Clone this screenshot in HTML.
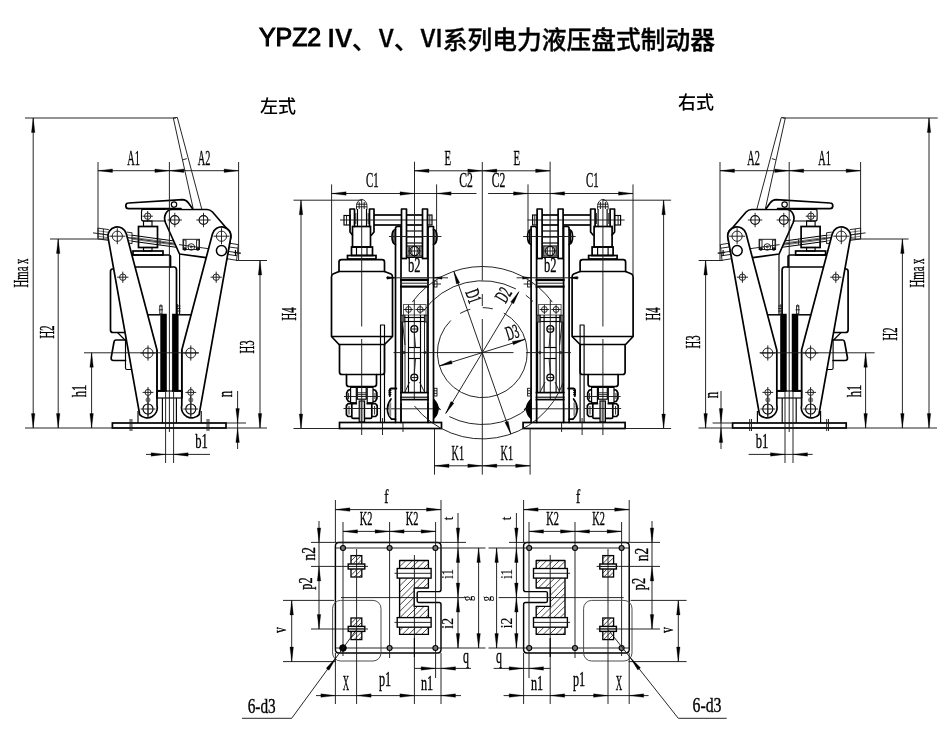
<!DOCTYPE html>
<html lang="zh-CN">
<head>
<meta charset="utf-8">
<title>YPZ2 Ⅳ、Ⅴ、Ⅵ系列电力液压盘式制动器</title>
<style>
html,body{margin:0;padding:0;background:#fff;}
body{width:950px;height:750px;position:relative;overflow:hidden;font-family:"Liberation Sans","Noto Sans CJK SC",sans-serif;color:#000;}
.title{position:absolute;left:0;top:21px;width:950px;height:36px;font-size:24.5px;line-height:36px;font-weight:700;white-space:nowrap;}
.title span{position:absolute;top:0;}
.title .la{font-family:"Liberation Sans",sans-serif;font-size:25px;top:-1.6px;font-weight:400;letter-spacing:-0.1px;-webkit-text-stroke:1px #000;}
.title .rn{font-family:"Noto Sans CJK SC","Liberation Sans",sans-serif;font-weight:500;top:-2px;-webkit-text-stroke:0.3px #000;}
.title .cj{font-family:"Liberation Sans","Noto Sans CJK SC",sans-serif;top:1.6px;font-weight:500;-webkit-text-stroke:0.35px #000;}
.lab{position:absolute;font-size:18px;line-height:24px;font-weight:500;white-space:nowrap;}
svg{position:absolute;left:0;top:0;}
svg,.title,.lab{will-change:transform;}
</style>
</head>
<body>
<svg width="950" height="750" viewBox="0 0 950 750" stroke-linecap="butt">
<path d="M165,209.5 L143.5,209.5 Q141.5,209.5 141.5,211.5 L141.5,219 Q141.5,221 143.5,221 L166,221" fill="none" stroke="#000" stroke-width="1.15" stroke-linejoin="round" stroke-linecap="round"/>
<circle cx="147.7" cy="216.2" r="3.2" fill="none" stroke="#1a1a1a" stroke-width="0.95"/>
<line x1="142.5" y1="216.2" x2="152.9" y2="216.2" stroke="#1a1a1a" stroke-width="0.95"/>
<line x1="147.7" y1="211" x2="147.7" y2="221.4" stroke="#1a1a1a" stroke-width="0.95"/>
<rect x="143.5" y="221" width="8.5" height="5.5" fill="none" stroke="#000" stroke-width="1.15"/>
<rect x="138.5" y="226.5" width="19" height="21" fill="#fff" stroke="#000" stroke-width="1.7"/>
<rect x="143.5" y="247.5" width="8.5" height="3.5" fill="none" stroke="#000" stroke-width="1.15"/>
<rect x="133" y="251" width="30" height="4" fill="none" stroke="#000" stroke-width="1.7"/>
<path d="M133,255 L168.5,255 Q170.5,255 170.5,257 L170.5,267 L134,267" fill="none" stroke="#000" stroke-width="1.7" stroke-linejoin="round" stroke-linecap="round"/>
<path d="M125,269 L112.5,269 Q110.5,269 110.5,271.5 L110.5,330 Q110.5,332.5 113,332.5 L125,332.5" fill="none" stroke="#000" stroke-width="1.7" stroke-linejoin="round" stroke-linecap="round"/>
<path d="M170.5,267 L174.5,267 Q176.5,267.5 176.5,270 L176.5,314" fill="none" stroke="#000" stroke-width="1.7" stroke-linejoin="round" stroke-linecap="round"/>
<line x1="179.6" y1="254" x2="179.6" y2="314" stroke="#000" stroke-width="1.15"/>
<line x1="177.6" y1="304" x2="177.6" y2="314" stroke="#1a1a1a" stroke-width="0.95"/>
<line x1="177" y1="306" x2="180.5" y2="306" stroke="#1a1a1a" stroke-width="0.95"/>
<line x1="177" y1="308.5" x2="180.5" y2="308.5" stroke="#1a1a1a" stroke-width="0.95"/>
<line x1="177" y1="311" x2="180.5" y2="311" stroke="#1a1a1a" stroke-width="0.95"/>
<line x1="117.5" y1="332.5" x2="125" y2="340" stroke="#000" stroke-width="1.15"/>
<path d="M125.5,340 L116,340 Q114.3,340 114,342 L111.2,357.5 Q110.8,360.5 113.5,360.5 L125.5,360.5" fill="none" stroke="#000" stroke-width="1.7" stroke-linejoin="round" stroke-linecap="round"/>
<path d="M125.5,340 L125.5,368 Q125.5,369.5 127,369.5 L131,369.5" fill="none" stroke="#000" stroke-width="1.15" stroke-linejoin="round" stroke-linecap="round"/>
<line x1="132" y1="235.2" x2="178" y2="241.5" stroke="#000" stroke-width="1"/>
<line x1="132" y1="241.2" x2="178" y2="247.5" stroke="#000" stroke-width="1"/>
<line x1="132" y1="237.2" x2="177" y2="243.37" stroke="#222" stroke-width="0.6"/>
<line x1="132" y1="239.2" x2="177" y2="245.37" stroke="#222" stroke-width="0.6"/>
<line x1="97.6" y1="228.09" x2="108.8" y2="229.62" stroke="#111" stroke-width="0.9"/>
<line x1="97.6" y1="238.89" x2="108.8" y2="240.42" stroke="#111" stroke-width="0.9"/>
<line x1="97.6" y1="230.79" x2="108.8" y2="232.32" stroke="#222" stroke-width="0.6"/>
<line x1="97.6" y1="233.49" x2="108.8" y2="235.02" stroke="#222" stroke-width="0.6"/>
<line x1="97.6" y1="236.19" x2="108.8" y2="237.72" stroke="#222" stroke-width="0.6"/>
<line x1="98" y1="228.14" x2="98" y2="238.94" stroke="#111" stroke-width="0.9"/>
<line x1="103.4" y1="228.88" x2="103.4" y2="239.68" stroke="#111" stroke-width="0.9"/>
<line x1="126.8" y1="232.09" x2="132.2" y2="232.83" stroke="#111" stroke-width="0.9"/>
<line x1="126.8" y1="242.89" x2="132.2" y2="243.63" stroke="#111" stroke-width="0.9"/>
<line x1="126.8" y1="234.79" x2="132.2" y2="235.53" stroke="#222" stroke-width="0.6"/>
<line x1="126.8" y1="237.49" x2="132.2" y2="238.23" stroke="#222" stroke-width="0.6"/>
<line x1="126.8" y1="240.19" x2="132.2" y2="240.93" stroke="#222" stroke-width="0.6"/>
<line x1="132" y1="232.8" x2="132" y2="243.6" stroke="#111" stroke-width="0.9"/>
<line x1="160" y1="239.24" x2="160" y2="244.84" stroke="#1a1a1a" stroke-width="0.95"/>
<line x1="93" y1="232.86" x2="241" y2="253.13" stroke="#1a1a1a" stroke-width="0.95"/>
<path d="M172,209.5 L207,209.5 Q210,209.5 212.5,212 L226.5,228.2 A9.3,9.3 0 0 1 230.8,237 L226,262 L206,257.6 L179.5,254 L165.6,223 Q163.6,218 165.6,214 Q167.6,209.5 172,209.5 Z" fill="#fff" stroke="#000" stroke-width="1.7" stroke-linejoin="round" stroke-linecap="round"/>
<circle cx="174.8" cy="220" r="4.4" fill="none" stroke="#000" stroke-width="1.15"/>
<line x1="167.6" y1="220" x2="182" y2="220" stroke="#1a1a1a" stroke-width="0.95"/>
<line x1="174.8" y1="212.8" x2="174.8" y2="227.2" stroke="#1a1a1a" stroke-width="0.95"/>
<circle cx="203.5" cy="220" r="4.4" fill="none" stroke="#000" stroke-width="1.15"/>
<line x1="196.3" y1="220" x2="210.7" y2="220" stroke="#1a1a1a" stroke-width="0.95"/>
<line x1="203.5" y1="212.8" x2="203.5" y2="227.2" stroke="#1a1a1a" stroke-width="0.95"/>
<rect x="183" y="239.3" width="16.5" height="10.2" fill="none" stroke="#1a1a1a" stroke-width="0.95"/>
<circle cx="191.3" cy="247" r="3.3" fill="none" stroke="#1a1a1a" stroke-width="0.95"/>
<circle cx="191.3" cy="247" r="0.9" fill="none" stroke="#1a1a1a" stroke-width="0.95"/>
<rect x="183.6" y="240" width="2.4" height="9" fill="none" stroke="#1a1a1a" stroke-width="0.95"/>
<rect x="196.6" y="240" width="2.4" height="9" fill="none" stroke="#1a1a1a" stroke-width="0.95"/>
<circle cx="184.8" cy="249" r="1.2" fill="none" stroke="#000" stroke-width="1.15"/>
<circle cx="197.8" cy="249" r="1.2" fill="none" stroke="#000" stroke-width="1.15"/>
<line x1="179" y1="244.64" x2="212" y2="249.16" stroke="#1a1a1a" stroke-width="0.95"/>
<line x1="173.3" y1="118" x2="193.2" y2="208.6" stroke="#1a1a1a" stroke-width="0.95"/>
<line x1="177.3" y1="117.4" x2="201.8" y2="209.2" stroke="#1a1a1a" stroke-width="0.95"/>
<line x1="173.3" y1="118" x2="177.3" y2="117.4" stroke="#1a1a1a" stroke-width="0.95"/>
<line x1="182.9" y1="159.8" x2="186.8" y2="158.6" stroke="#1a1a1a" stroke-width="0.95"/>
<path d="M181,208.6 L128.7,208.6 A2.8,2.8 0 0 1 128.5,203 L182.5,199.6 Q186,199.6 188.5,203 L192.4,208.6" fill="#fff" stroke="#000" stroke-width="1.7" stroke-linejoin="round" stroke-linecap="round"/>
<line x1="141" y1="209" x2="181" y2="209" stroke="#000" stroke-width="1.7"/>
<circle cx="174" cy="204.6" r="2.7" fill="#fff" stroke="#000" stroke-width="1.15"/>
<polyline points="229.3,243.2 238.3,244.6 236.6,260.3 226.4,258.6" fill="none" stroke="#1a1a1a" stroke-width="0.95" stroke-linejoin="round"/>
<line x1="229.5" y1="247" x2="237.8" y2="248.2" stroke="#1a1a1a" stroke-width="0.95"/>
<line x1="228.5" y1="254.5" x2="237" y2="255.8" stroke="#1a1a1a" stroke-width="0.95"/>
<line x1="233.6" y1="252.5" x2="240.5" y2="253.4" stroke="#1a1a1a" stroke-width="0.95"/>
<line x1="235.5" y1="250" x2="235.5" y2="256" stroke="#000" stroke-width="1.15"/>
<path d="M108.14,237.83 A9.3,9.3 0 0 1 126.29,233.82 L157,350 L157,405.5 A10.1,10.1 0 0 1 139.7,414.6 Z" fill="#fff" stroke="#000" stroke-width="1.7" stroke-linejoin="round" stroke-linecap="round"/>
<path d="M230.66,237.83 A9.3,9.3 0 0 0 212.51,233.82 L181.8,350 L181.8,405.5 A10.1,10.1 0 0 0 199.1,414.6 Z" fill="#fff" stroke="#000" stroke-width="1.7" stroke-linejoin="round" stroke-linecap="round"/>
<circle cx="117.3" cy="236.2" r="5.1" fill="none" stroke="#1a1a1a" stroke-width="0.95"/>
<line x1="109.3" y1="236.2" x2="125.3" y2="236.2" stroke="#1a1a1a" stroke-width="0.95"/>
<line x1="117.3" y1="228.2" x2="117.3" y2="244.2" stroke="#1a1a1a" stroke-width="0.95"/>
<circle cx="221.5" cy="236.2" r="5.1" fill="none" stroke="#1a1a1a" stroke-width="0.95"/>
<line x1="213.5" y1="236.2" x2="229.5" y2="236.2" stroke="#1a1a1a" stroke-width="0.95"/>
<line x1="221.5" y1="228.2" x2="221.5" y2="244.2" stroke="#1a1a1a" stroke-width="0.95"/>
<circle cx="221.5" cy="250.6" r="5.1" fill="none" stroke="#000" stroke-width="1.5"/>
<circle cx="122.8" cy="277.2" r="3.2" fill="none" stroke="#1a1a1a" stroke-width="0.95"/>
<line x1="117.2" y1="277.2" x2="128.4" y2="277.2" stroke="#1a1a1a" stroke-width="0.95"/>
<line x1="122.8" y1="271.6" x2="122.8" y2="282.8" stroke="#1a1a1a" stroke-width="0.95"/>
<circle cx="216.2" cy="277.2" r="3.2" fill="none" stroke="#1a1a1a" stroke-width="0.95"/>
<line x1="210.6" y1="277.2" x2="221.8" y2="277.2" stroke="#1a1a1a" stroke-width="0.95"/>
<line x1="216.2" y1="271.6" x2="216.2" y2="282.8" stroke="#1a1a1a" stroke-width="0.95"/>
<line x1="147.8" y1="314.8" x2="160.5" y2="314.8" stroke="#000" stroke-width="1.5"/>
<line x1="178.2" y1="314.8" x2="191.2" y2="314.8" stroke="#000" stroke-width="1.5"/>
<rect x="160.6" y="314" width="6" height="77" fill="#000" stroke="#000" stroke-width="0.5"/>
<rect x="172.2" y="314" width="6" height="77" fill="#000" stroke="#000" stroke-width="0.5"/>
<line x1="157" y1="350" x2="157" y2="398" stroke="#000" stroke-width="1.15"/>
<line x1="182" y1="350" x2="182" y2="398" stroke="#000" stroke-width="1.15"/>
<rect x="159.8" y="306" width="2.2" height="8" fill="none" stroke="#1a1a1a" stroke-width="0.95"/>
<line x1="158.8" y1="309.8" x2="163" y2="309.8" stroke="#1a1a1a" stroke-width="0.95"/>
<path d="M159.8,306 A1.1,1.1 0 0 1 162,306" fill="none" stroke="#1a1a1a" stroke-width="0.95" stroke-linejoin="round" stroke-linecap="round"/>
<rect x="157" y="391" width="25" height="7" fill="none" stroke="#000" stroke-width="1.15"/>
<line x1="157.6" y1="390.9" x2="166.6" y2="390.9" stroke="#000" stroke-width="2"/>
<line x1="172.2" y1="390.9" x2="182.6" y2="390.9" stroke="#000" stroke-width="2"/>
<line x1="162.4" y1="398" x2="162.4" y2="423" stroke="#000" stroke-width="1.15"/>
<line x1="176.4" y1="398" x2="176.4" y2="423" stroke="#000" stroke-width="1.15"/>
<rect x="112.4" y="423" width="113.6" height="5" fill="none" stroke="#000" stroke-width="1.7"/>
<line x1="130.1" y1="419" x2="130.1" y2="431" stroke="#1a1a1a" stroke-width="0.95"/>
<line x1="131.9" y1="419" x2="131.9" y2="431" stroke="#1a1a1a" stroke-width="0.95"/>
<line x1="207.1" y1="419" x2="207.1" y2="431" stroke="#1a1a1a" stroke-width="0.95"/>
<line x1="208.9" y1="419" x2="208.9" y2="431" stroke="#1a1a1a" stroke-width="0.95"/>
<line x1="138" y1="411" x2="138" y2="423" stroke="#000" stroke-width="1.15"/>
<line x1="201.2" y1="411" x2="201.2" y2="423" stroke="#000" stroke-width="1.15"/>
<circle cx="148" cy="409" r="5" fill="none" stroke="#000" stroke-width="1.15"/>
<line x1="140.6" y1="409" x2="155.4" y2="409" stroke="#1a1a1a" stroke-width="0.95"/>
<line x1="148" y1="401.6" x2="148" y2="416.4" stroke="#1a1a1a" stroke-width="0.95"/>
<circle cx="148" cy="392.4" r="3" fill="none" stroke="#1a1a1a" stroke-width="0.95"/>
<line x1="142.6" y1="392.4" x2="153.4" y2="392.4" stroke="#1a1a1a" stroke-width="0.95"/>
<line x1="148" y1="387" x2="148" y2="397.8" stroke="#1a1a1a" stroke-width="0.95"/>
<circle cx="148" cy="399.9" r="2.2" fill="#8a8a8a" stroke="#555" stroke-width="0.6"/>
<line x1="148" y1="396" x2="148" y2="418" stroke="#1a1a1a" stroke-width="0.95"/>
<circle cx="148" cy="353" r="5" fill="none" stroke="#1a1a1a" stroke-width="0.95"/>
<line x1="140.4" y1="353" x2="155.6" y2="353" stroke="#1a1a1a" stroke-width="0.95"/>
<line x1="148" y1="345.4" x2="148" y2="360.6" stroke="#1a1a1a" stroke-width="0.95"/>
<circle cx="190.8" cy="409" r="5" fill="none" stroke="#000" stroke-width="1.15"/>
<line x1="183.4" y1="409" x2="198.2" y2="409" stroke="#1a1a1a" stroke-width="0.95"/>
<line x1="190.8" y1="401.6" x2="190.8" y2="416.4" stroke="#1a1a1a" stroke-width="0.95"/>
<circle cx="190.8" cy="392.4" r="3" fill="none" stroke="#1a1a1a" stroke-width="0.95"/>
<line x1="185.4" y1="392.4" x2="196.2" y2="392.4" stroke="#1a1a1a" stroke-width="0.95"/>
<line x1="190.8" y1="387" x2="190.8" y2="397.8" stroke="#1a1a1a" stroke-width="0.95"/>
<circle cx="190.8" cy="399.9" r="2.2" fill="#8a8a8a" stroke="#555" stroke-width="0.6"/>
<line x1="190.8" y1="396" x2="190.8" y2="418" stroke="#1a1a1a" stroke-width="0.95"/>
<circle cx="190.8" cy="353" r="5" fill="none" stroke="#1a1a1a" stroke-width="0.95"/>
<line x1="183.2" y1="353" x2="198.4" y2="353" stroke="#1a1a1a" stroke-width="0.95"/>
<line x1="190.8" y1="345.4" x2="190.8" y2="360.6" stroke="#1a1a1a" stroke-width="0.95"/>
<line x1="169.4" y1="162" x2="169.4" y2="432" stroke="#1a1a1a" stroke-width="0.95"/>
<line x1="25" y1="118" x2="176" y2="118" stroke="#1a1a1a" stroke-width="0.95"/>
<line x1="33.2" y1="118" x2="33.2" y2="428" stroke="#1a1a1a" stroke-width="0.95"/>
<polygon points="33.2,118 34.95,132.5 31.45,132.5" fill="#000" stroke="#000" stroke-width="0.3"/>
<polygon points="33.2,428 31.45,413.5 34.95,413.5" fill="#000" stroke="#000" stroke-width="0.3"/>
<line x1="25" y1="428" x2="267" y2="428" stroke="#1a1a1a" stroke-width="0.95"/>
<line x1="50" y1="239" x2="108" y2="239" stroke="#1a1a1a" stroke-width="0.95"/>
<line x1="58.2" y1="239" x2="58.2" y2="428" stroke="#1a1a1a" stroke-width="0.95"/>
<polygon points="58.2,239 59.95,253.5 56.45,253.5" fill="#000" stroke="#000" stroke-width="0.3"/>
<polygon points="58.2,428 56.45,413.5 59.95,413.5" fill="#000" stroke="#000" stroke-width="0.3"/>
<line x1="84" y1="352.8" x2="199" y2="352.8" stroke="#1a1a1a" stroke-width="0.95"/>
<line x1="91.6" y1="352.8" x2="91.6" y2="428" stroke="#1a1a1a" stroke-width="0.95"/>
<polygon points="91.6,352.8 93.35,367.3 89.85,367.3" fill="#000" stroke="#000" stroke-width="0.3"/>
<polygon points="91.6,428 89.85,413.5 93.35,413.5" fill="#000" stroke="#000" stroke-width="0.3"/>
<line x1="98" y1="162" x2="98" y2="238" stroke="#1a1a1a" stroke-width="0.95"/>
<line x1="238.6" y1="162" x2="238.6" y2="260.5" stroke="#1a1a1a" stroke-width="0.95"/>
<line x1="98" y1="170.7" x2="238.6" y2="170.7" stroke="#1a1a1a" stroke-width="0.95"/>
<polygon points="98,170.7 112.5,168.95 112.5,172.45" fill="#000" stroke="#000" stroke-width="0.3"/>
<polygon points="169.4,170.7 154.9,172.45 154.9,168.95" fill="#000" stroke="#000" stroke-width="0.3"/>
<polygon points="169.4,170.7 183.9,168.95 183.9,172.45" fill="#000" stroke="#000" stroke-width="0.3"/>
<polygon points="238.6,170.7 224.1,172.45 224.1,168.95" fill="#000" stroke="#000" stroke-width="0.3"/>
<line x1="236" y1="260.5" x2="267" y2="260.5" stroke="#1a1a1a" stroke-width="0.95"/>
<line x1="260" y1="260.5" x2="260" y2="428" stroke="#1a1a1a" stroke-width="0.95"/>
<polygon points="260,260.5 261.75,275 258.25,275" fill="#000" stroke="#000" stroke-width="0.3"/>
<polygon points="260,428 258.25,413.5 261.75,413.5" fill="#000" stroke="#000" stroke-width="0.3"/>
<line x1="226" y1="423" x2="246" y2="423" stroke="#1a1a1a" stroke-width="0.95"/>
<line x1="237.6" y1="391" x2="237.6" y2="449" stroke="#1a1a1a" stroke-width="0.95"/>
<polygon points="237.6,423 235.85,408.5 239.35,408.5" fill="#000" stroke="#000" stroke-width="0.3"/>
<polygon points="237.6,428 239.35,442.5 235.85,442.5" fill="#000" stroke="#000" stroke-width="0.3"/>
<line x1="165.6" y1="391" x2="165.6" y2="463" stroke="#1a1a1a" stroke-width="0.95"/>
<line x1="173.6" y1="391" x2="173.6" y2="463" stroke="#1a1a1a" stroke-width="0.95"/>
<line x1="146" y1="454.4" x2="210" y2="454.4" stroke="#1a1a1a" stroke-width="0.95"/>
<polygon points="165.6,454.4 151.1,456.15 151.1,452.65" fill="#000" stroke="#000" stroke-width="0.3"/>
<polygon points="173.6,454.4 188.1,452.65 188.1,456.15" fill="#000" stroke="#000" stroke-width="0.3"/>
<path d="M793.6,209.5 L815.1,209.5 Q817.1,209.5 817.1,211.5 L817.1,219 Q817.1,221 815.1,221 L792.6,221" fill="none" stroke="#000" stroke-width="1.15" stroke-linejoin="round" stroke-linecap="round"/>
<circle cx="810.9" cy="216.2" r="3.2" fill="none" stroke="#1a1a1a" stroke-width="0.95"/>
<line x1="816.1" y1="216.2" x2="805.7" y2="216.2" stroke="#1a1a1a" stroke-width="0.95"/>
<line x1="810.9" y1="211" x2="810.9" y2="221.4" stroke="#1a1a1a" stroke-width="0.95"/>
<rect x="806.6" y="221" width="8.5" height="5.5" fill="none" stroke="#000" stroke-width="1.15"/>
<rect x="801.1" y="226.5" width="19" height="21" fill="#fff" stroke="#000" stroke-width="1.7"/>
<rect x="806.6" y="247.5" width="8.5" height="3.5" fill="none" stroke="#000" stroke-width="1.15"/>
<rect x="795.6" y="251" width="30" height="4" fill="none" stroke="#000" stroke-width="1.7"/>
<path d="M825.6,255 L790.1,255 Q788.1,255 788.1,257 L788.1,267 L824.6,267" fill="none" stroke="#000" stroke-width="1.7" stroke-linejoin="round" stroke-linecap="round"/>
<path d="M833.6,269 L846.1,269 Q848.1,269 848.1,271.5 L848.1,330 Q848.1,332.5 845.6,332.5 L833.6,332.5" fill="none" stroke="#000" stroke-width="1.7" stroke-linejoin="round" stroke-linecap="round"/>
<path d="M788.1,267 L784.1,267 Q782.1,267.5 782.1,270 L782.1,314" fill="none" stroke="#000" stroke-width="1.7" stroke-linejoin="round" stroke-linecap="round"/>
<line x1="779" y1="254" x2="779" y2="314" stroke="#000" stroke-width="1.15"/>
<line x1="781" y1="304" x2="781" y2="314" stroke="#1a1a1a" stroke-width="0.95"/>
<line x1="781.6" y1="306" x2="778.1" y2="306" stroke="#1a1a1a" stroke-width="0.95"/>
<line x1="781.6" y1="308.5" x2="778.1" y2="308.5" stroke="#1a1a1a" stroke-width="0.95"/>
<line x1="781.6" y1="311" x2="778.1" y2="311" stroke="#1a1a1a" stroke-width="0.95"/>
<line x1="841.1" y1="332.5" x2="833.6" y2="340" stroke="#000" stroke-width="1.15"/>
<path d="M833.1,340 L842.6,340 Q844.3,340 844.6,342 L847.4,357.5 Q847.8,360.5 845.1,360.5 L833.1,360.5" fill="none" stroke="#000" stroke-width="1.7" stroke-linejoin="round" stroke-linecap="round"/>
<path d="M833.1,340 L833.1,368 Q833.1,369.5 831.6,369.5 L827.6,369.5" fill="none" stroke="#000" stroke-width="1.15" stroke-linejoin="round" stroke-linecap="round"/>
<line x1="826.6" y1="235.2" x2="780.6" y2="241.5" stroke="#000" stroke-width="1"/>
<line x1="826.6" y1="241.2" x2="780.6" y2="247.5" stroke="#000" stroke-width="1"/>
<line x1="826.6" y1="237.2" x2="781.6" y2="243.37" stroke="#222" stroke-width="0.6"/>
<line x1="826.6" y1="239.2" x2="781.6" y2="245.37" stroke="#222" stroke-width="0.6"/>
<line x1="861" y1="228.09" x2="849.8" y2="229.62" stroke="#111" stroke-width="0.9"/>
<line x1="861" y1="238.89" x2="849.8" y2="240.42" stroke="#111" stroke-width="0.9"/>
<line x1="861" y1="230.79" x2="849.8" y2="232.32" stroke="#222" stroke-width="0.6"/>
<line x1="861" y1="233.49" x2="849.8" y2="235.02" stroke="#222" stroke-width="0.6"/>
<line x1="861" y1="236.19" x2="849.8" y2="237.72" stroke="#222" stroke-width="0.6"/>
<line x1="860.6" y1="228.14" x2="860.6" y2="238.94" stroke="#111" stroke-width="0.9"/>
<line x1="855.2" y1="228.88" x2="855.2" y2="239.68" stroke="#111" stroke-width="0.9"/>
<line x1="831.8" y1="232.09" x2="826.4" y2="232.83" stroke="#111" stroke-width="0.9"/>
<line x1="831.8" y1="242.89" x2="826.4" y2="243.63" stroke="#111" stroke-width="0.9"/>
<line x1="831.8" y1="234.79" x2="826.4" y2="235.53" stroke="#222" stroke-width="0.6"/>
<line x1="831.8" y1="237.49" x2="826.4" y2="238.23" stroke="#222" stroke-width="0.6"/>
<line x1="831.8" y1="240.19" x2="826.4" y2="240.93" stroke="#222" stroke-width="0.6"/>
<line x1="826.6" y1="232.8" x2="826.6" y2="243.6" stroke="#111" stroke-width="0.9"/>
<line x1="798.6" y1="239.24" x2="798.6" y2="244.84" stroke="#1a1a1a" stroke-width="0.95"/>
<line x1="865.6" y1="232.86" x2="717.6" y2="253.13" stroke="#1a1a1a" stroke-width="0.95"/>
<path d="M786.6,209.5 L751.6,209.5 Q748.6,209.5 746.1,212 L732.1,228.2 A9.3,9.3 0 0 0 727.8,237 L732.6,262 L752.6,257.6 L779.1,254 L793,223 Q795,218 793,214 Q791,209.5 786.6,209.5 Z" fill="#fff" stroke="#000" stroke-width="1.7" stroke-linejoin="round" stroke-linecap="round"/>
<circle cx="783.8" cy="220" r="4.4" fill="none" stroke="#000" stroke-width="1.15"/>
<line x1="791" y1="220" x2="776.6" y2="220" stroke="#1a1a1a" stroke-width="0.95"/>
<line x1="783.8" y1="212.8" x2="783.8" y2="227.2" stroke="#1a1a1a" stroke-width="0.95"/>
<circle cx="755.1" cy="220" r="4.4" fill="none" stroke="#000" stroke-width="1.15"/>
<line x1="762.3" y1="220" x2="747.9" y2="220" stroke="#1a1a1a" stroke-width="0.95"/>
<line x1="755.1" y1="212.8" x2="755.1" y2="227.2" stroke="#1a1a1a" stroke-width="0.95"/>
<rect x="759.1" y="239.3" width="16.5" height="10.2" fill="none" stroke="#1a1a1a" stroke-width="0.95"/>
<circle cx="767.3" cy="247" r="3.3" fill="none" stroke="#1a1a1a" stroke-width="0.95"/>
<circle cx="767.3" cy="247" r="0.9" fill="none" stroke="#1a1a1a" stroke-width="0.95"/>
<rect x="772.6" y="240" width="2.4" height="9" fill="none" stroke="#1a1a1a" stroke-width="0.95"/>
<rect x="759.6" y="240" width="2.4" height="9" fill="none" stroke="#1a1a1a" stroke-width="0.95"/>
<circle cx="773.8" cy="249" r="1.2" fill="none" stroke="#000" stroke-width="1.15"/>
<circle cx="760.8" cy="249" r="1.2" fill="none" stroke="#000" stroke-width="1.15"/>
<line x1="779.6" y1="244.64" x2="746.6" y2="249.16" stroke="#1a1a1a" stroke-width="0.95"/>
<line x1="785.3" y1="118" x2="765.4" y2="208.6" stroke="#1a1a1a" stroke-width="0.95"/>
<line x1="781.3" y1="117.4" x2="756.8" y2="209.2" stroke="#1a1a1a" stroke-width="0.95"/>
<line x1="785.3" y1="118" x2="781.3" y2="117.4" stroke="#1a1a1a" stroke-width="0.95"/>
<line x1="775.7" y1="159.8" x2="771.8" y2="158.6" stroke="#1a1a1a" stroke-width="0.95"/>
<path d="M777.6,208.6 L829.9,208.6 A2.8,2.8 0 0 0 830.1,203 L776.1,199.6 Q772.6,199.6 770.1,203 L766.2,208.6" fill="#fff" stroke="#000" stroke-width="1.7" stroke-linejoin="round" stroke-linecap="round"/>
<line x1="817.6" y1="209" x2="777.6" y2="209" stroke="#000" stroke-width="1.7"/>
<circle cx="784.6" cy="204.6" r="2.7" fill="#fff" stroke="#000" stroke-width="1.15"/>
<polyline points="729.3,243.2 720.3,244.6 722,260.3 732.2,258.6" fill="none" stroke="#1a1a1a" stroke-width="0.95" stroke-linejoin="round"/>
<line x1="729.1" y1="247" x2="720.8" y2="248.2" stroke="#1a1a1a" stroke-width="0.95"/>
<line x1="730.1" y1="254.5" x2="721.6" y2="255.8" stroke="#1a1a1a" stroke-width="0.95"/>
<line x1="725" y1="252.5" x2="718.1" y2="253.4" stroke="#1a1a1a" stroke-width="0.95"/>
<line x1="723.1" y1="250" x2="723.1" y2="256" stroke="#000" stroke-width="1.15"/>
<path d="M850.46,237.83 A9.3,9.3 0 0 0 832.31,233.82 L801.6,350 L801.6,405.5 A10.1,10.1 0 0 0 818.9,414.6 Z" fill="#fff" stroke="#000" stroke-width="1.7" stroke-linejoin="round" stroke-linecap="round"/>
<path d="M727.94,237.83 A9.3,9.3 0 0 1 746.09,233.82 L776.8,350 L776.8,405.5 A10.1,10.1 0 0 1 759.5,414.6 Z" fill="#fff" stroke="#000" stroke-width="1.7" stroke-linejoin="round" stroke-linecap="round"/>
<circle cx="841.3" cy="236.2" r="5.1" fill="none" stroke="#1a1a1a" stroke-width="0.95"/>
<line x1="849.3" y1="236.2" x2="833.3" y2="236.2" stroke="#1a1a1a" stroke-width="0.95"/>
<line x1="841.3" y1="228.2" x2="841.3" y2="244.2" stroke="#1a1a1a" stroke-width="0.95"/>
<circle cx="737.1" cy="236.2" r="5.1" fill="none" stroke="#1a1a1a" stroke-width="0.95"/>
<line x1="745.1" y1="236.2" x2="729.1" y2="236.2" stroke="#1a1a1a" stroke-width="0.95"/>
<line x1="737.1" y1="228.2" x2="737.1" y2="244.2" stroke="#1a1a1a" stroke-width="0.95"/>
<circle cx="737.1" cy="250.6" r="5.1" fill="none" stroke="#000" stroke-width="1.5"/>
<circle cx="835.8" cy="277.2" r="3.2" fill="none" stroke="#1a1a1a" stroke-width="0.95"/>
<line x1="841.4" y1="277.2" x2="830.2" y2="277.2" stroke="#1a1a1a" stroke-width="0.95"/>
<line x1="835.8" y1="271.6" x2="835.8" y2="282.8" stroke="#1a1a1a" stroke-width="0.95"/>
<circle cx="742.4" cy="277.2" r="3.2" fill="none" stroke="#1a1a1a" stroke-width="0.95"/>
<line x1="748" y1="277.2" x2="736.8" y2="277.2" stroke="#1a1a1a" stroke-width="0.95"/>
<line x1="742.4" y1="271.6" x2="742.4" y2="282.8" stroke="#1a1a1a" stroke-width="0.95"/>
<line x1="810.8" y1="314.8" x2="798.1" y2="314.8" stroke="#000" stroke-width="1.5"/>
<line x1="780.4" y1="314.8" x2="767.4" y2="314.8" stroke="#000" stroke-width="1.5"/>
<rect x="792" y="314" width="6" height="77" fill="#000" stroke="#000" stroke-width="0.5"/>
<rect x="780.4" y="314" width="6" height="77" fill="#000" stroke="#000" stroke-width="0.5"/>
<line x1="801.6" y1="350" x2="801.6" y2="398" stroke="#000" stroke-width="1.15"/>
<line x1="776.6" y1="350" x2="776.6" y2="398" stroke="#000" stroke-width="1.15"/>
<rect x="796.6" y="306" width="2.2" height="8" fill="none" stroke="#1a1a1a" stroke-width="0.95"/>
<line x1="799.8" y1="309.8" x2="795.6" y2="309.8" stroke="#1a1a1a" stroke-width="0.95"/>
<path d="M798.8,306 A1.1,1.1 0 0 0 796.6,306" fill="none" stroke="#1a1a1a" stroke-width="0.95" stroke-linejoin="round" stroke-linecap="round"/>
<rect x="776.6" y="391" width="25" height="7" fill="none" stroke="#000" stroke-width="1.15"/>
<line x1="801" y1="390.9" x2="792" y2="390.9" stroke="#000" stroke-width="2"/>
<line x1="786.4" y1="390.9" x2="776" y2="390.9" stroke="#000" stroke-width="2"/>
<line x1="796.2" y1="398" x2="796.2" y2="423" stroke="#000" stroke-width="1.15"/>
<line x1="782.2" y1="398" x2="782.2" y2="423" stroke="#000" stroke-width="1.15"/>
<rect x="732.6" y="423" width="113.6" height="5" fill="none" stroke="#000" stroke-width="1.7"/>
<line x1="828.5" y1="419" x2="828.5" y2="431" stroke="#1a1a1a" stroke-width="0.95"/>
<line x1="826.7" y1="419" x2="826.7" y2="431" stroke="#1a1a1a" stroke-width="0.95"/>
<line x1="751.5" y1="419" x2="751.5" y2="431" stroke="#1a1a1a" stroke-width="0.95"/>
<line x1="749.7" y1="419" x2="749.7" y2="431" stroke="#1a1a1a" stroke-width="0.95"/>
<line x1="820.6" y1="411" x2="820.6" y2="423" stroke="#000" stroke-width="1.15"/>
<line x1="757.4" y1="411" x2="757.4" y2="423" stroke="#000" stroke-width="1.15"/>
<circle cx="810.6" cy="409" r="5" fill="none" stroke="#000" stroke-width="1.15"/>
<line x1="818" y1="409" x2="803.2" y2="409" stroke="#1a1a1a" stroke-width="0.95"/>
<line x1="810.6" y1="401.6" x2="810.6" y2="416.4" stroke="#1a1a1a" stroke-width="0.95"/>
<circle cx="810.6" cy="392.4" r="3" fill="none" stroke="#1a1a1a" stroke-width="0.95"/>
<line x1="816" y1="392.4" x2="805.2" y2="392.4" stroke="#1a1a1a" stroke-width="0.95"/>
<line x1="810.6" y1="387" x2="810.6" y2="397.8" stroke="#1a1a1a" stroke-width="0.95"/>
<circle cx="810.6" cy="399.9" r="2.2" fill="#8a8a8a" stroke="#555" stroke-width="0.6"/>
<line x1="810.6" y1="396" x2="810.6" y2="418" stroke="#1a1a1a" stroke-width="0.95"/>
<circle cx="810.6" cy="353" r="5" fill="none" stroke="#1a1a1a" stroke-width="0.95"/>
<line x1="818.2" y1="353" x2="803" y2="353" stroke="#1a1a1a" stroke-width="0.95"/>
<line x1="810.6" y1="345.4" x2="810.6" y2="360.6" stroke="#1a1a1a" stroke-width="0.95"/>
<circle cx="767.8" cy="409" r="5" fill="none" stroke="#000" stroke-width="1.15"/>
<line x1="775.2" y1="409" x2="760.4" y2="409" stroke="#1a1a1a" stroke-width="0.95"/>
<line x1="767.8" y1="401.6" x2="767.8" y2="416.4" stroke="#1a1a1a" stroke-width="0.95"/>
<circle cx="767.8" cy="392.4" r="3" fill="none" stroke="#1a1a1a" stroke-width="0.95"/>
<line x1="773.2" y1="392.4" x2="762.4" y2="392.4" stroke="#1a1a1a" stroke-width="0.95"/>
<line x1="767.8" y1="387" x2="767.8" y2="397.8" stroke="#1a1a1a" stroke-width="0.95"/>
<circle cx="767.8" cy="399.9" r="2.2" fill="#8a8a8a" stroke="#555" stroke-width="0.6"/>
<line x1="767.8" y1="396" x2="767.8" y2="418" stroke="#1a1a1a" stroke-width="0.95"/>
<circle cx="767.8" cy="353" r="5" fill="none" stroke="#1a1a1a" stroke-width="0.95"/>
<line x1="775.4" y1="353" x2="760.2" y2="353" stroke="#1a1a1a" stroke-width="0.95"/>
<line x1="767.8" y1="345.4" x2="767.8" y2="360.6" stroke="#1a1a1a" stroke-width="0.95"/>
<line x1="789.2" y1="162" x2="789.2" y2="432" stroke="#1a1a1a" stroke-width="0.95"/>
<line x1="937.7" y1="118" x2="782.6" y2="118" stroke="#1a1a1a" stroke-width="0.95"/>
<line x1="929" y1="118" x2="929" y2="428" stroke="#1a1a1a" stroke-width="0.95"/>
<polygon points="929,118 927.25,132.5 930.75,132.5" fill="#000" stroke="#000" stroke-width="0.3"/>
<polygon points="929,428 930.75,413.5 927.25,413.5" fill="#000" stroke="#000" stroke-width="0.3"/>
<line x1="937" y1="428" x2="698.5" y2="428" stroke="#1a1a1a" stroke-width="0.95"/>
<line x1="908.6" y1="239" x2="850.6" y2="239" stroke="#1a1a1a" stroke-width="0.95"/>
<line x1="902.4" y1="239" x2="902.4" y2="428" stroke="#1a1a1a" stroke-width="0.95"/>
<polygon points="902.4,239 900.65,253.5 904.15,253.5" fill="#000" stroke="#000" stroke-width="0.3"/>
<polygon points="902.4,428 904.15,413.5 900.65,413.5" fill="#000" stroke="#000" stroke-width="0.3"/>
<line x1="874.6" y1="352.8" x2="759.6" y2="352.8" stroke="#1a1a1a" stroke-width="0.95"/>
<line x1="865.6" y1="352.8" x2="865.6" y2="428" stroke="#1a1a1a" stroke-width="0.95"/>
<polygon points="865.6,352.8 863.85,367.3 867.35,367.3" fill="#000" stroke="#000" stroke-width="0.3"/>
<polygon points="865.6,428 867.35,413.5 863.85,413.5" fill="#000" stroke="#000" stroke-width="0.3"/>
<line x1="860.6" y1="162" x2="860.6" y2="238" stroke="#1a1a1a" stroke-width="0.95"/>
<line x1="720" y1="162" x2="720" y2="260.5" stroke="#1a1a1a" stroke-width="0.95"/>
<line x1="860.6" y1="170.7" x2="720" y2="170.7" stroke="#1a1a1a" stroke-width="0.95"/>
<polygon points="860.6,170.7 846.1,168.95 846.1,172.45" fill="#000" stroke="#000" stroke-width="0.3"/>
<polygon points="789.2,170.7 803.7,172.45 803.7,168.95" fill="#000" stroke="#000" stroke-width="0.3"/>
<polygon points="789.2,170.7 774.7,168.95 774.7,172.45" fill="#000" stroke="#000" stroke-width="0.3"/>
<polygon points="720,170.7 734.5,172.45 734.5,168.95" fill="#000" stroke="#000" stroke-width="0.3"/>
<line x1="722.6" y1="260.5" x2="698.6" y2="260.5" stroke="#1a1a1a" stroke-width="0.95"/>
<line x1="705.6" y1="260.5" x2="705.6" y2="428" stroke="#1a1a1a" stroke-width="0.95"/>
<polygon points="705.6,260.5 703.85,275 707.35,275" fill="#000" stroke="#000" stroke-width="0.3"/>
<polygon points="705.6,428 707.35,413.5 703.85,413.5" fill="#000" stroke="#000" stroke-width="0.3"/>
<line x1="732.6" y1="423" x2="712.6" y2="423" stroke="#1a1a1a" stroke-width="0.95"/>
<line x1="721" y1="391" x2="721" y2="449" stroke="#1a1a1a" stroke-width="0.95"/>
<polygon points="721,423 722.75,408.5 719.25,408.5" fill="#000" stroke="#000" stroke-width="0.3"/>
<polygon points="721,428 719.25,442.5 722.75,442.5" fill="#000" stroke="#000" stroke-width="0.3"/>
<line x1="793" y1="391" x2="793" y2="463" stroke="#1a1a1a" stroke-width="0.95"/>
<line x1="785" y1="391" x2="785" y2="463" stroke="#1a1a1a" stroke-width="0.95"/>
<line x1="812.6" y1="454.4" x2="748.6" y2="454.4" stroke="#1a1a1a" stroke-width="0.95"/>
<polygon points="793,454.4 807.5,456.15 807.5,452.65" fill="#000" stroke="#000" stroke-width="0.3"/>
<polygon points="785,454.4 770.5,452.65 770.5,456.15" fill="#000" stroke="#000" stroke-width="0.3"/>
<path d="M356.5,209 L356.5,205.5 Q357,200.4 361.7,199.3 Q366.5,200.4 367,205.5 L367,209" fill="none" stroke="#1a1a1a" stroke-width="0.95" stroke-linejoin="round" stroke-linecap="round"/>
<line x1="356.5" y1="204.2" x2="367" y2="204.2" stroke="#1a1a1a" stroke-width="0.95"/>
<line x1="356.5" y1="206.8" x2="367" y2="206.8" stroke="#1a1a1a" stroke-width="0.95"/>
<line x1="359.2" y1="202" x2="359.2" y2="209" stroke="#1a1a1a" stroke-width="0.95"/>
<line x1="364.2" y1="202" x2="364.2" y2="209" stroke="#1a1a1a" stroke-width="0.95"/>
<path d="M350,209 L354.5,209 L354.5,226.5 M350,209 L350,232 L352.5,235" fill="none" stroke="#000" stroke-width="1.7" stroke-linejoin="round" stroke-linecap="round"/>
<path d="M374,209 L369.5,209 L369.5,226.5 M374,209 L374,232 L371.5,235" fill="none" stroke="#000" stroke-width="1.7" stroke-linejoin="round" stroke-linecap="round"/>
<line x1="357.5" y1="209" x2="357.5" y2="226.5" stroke="#000" stroke-width="1.15"/>
<line x1="366.5" y1="209" x2="366.5" y2="226.5" stroke="#000" stroke-width="1.15"/>
<line x1="355.8" y1="213" x2="355.8" y2="224" stroke="#1a1a1a" stroke-width="0.95"/>
<line x1="368.2" y1="213" x2="368.2" y2="224" stroke="#1a1a1a" stroke-width="0.95"/>
<line x1="374" y1="215" x2="401.5" y2="215" stroke="#000" stroke-width="1.7"/>
<line x1="374" y1="225" x2="401.5" y2="225" stroke="#000" stroke-width="1.7"/>
<line x1="340" y1="220" x2="437" y2="220" stroke="#1a1a1a" stroke-width="0.95"/>
<rect x="344" y="215.5" width="6" height="9.5" fill="none" stroke="#000" stroke-width="1.15"/>
<line x1="346.5" y1="215.5" x2="346.5" y2="225" stroke="#1a1a1a" stroke-width="0.95"/>
<rect x="352.5" y="226.5" width="18" height="20.5" fill="none" stroke="#000" stroke-width="1.7"/>
<rect x="351.5" y="247" width="21" height="8.5" fill="none" stroke="#000" stroke-width="1.7"/>
<line x1="356.5" y1="247" x2="356.5" y2="255.5" stroke="#000" stroke-width="1.15"/>
<line x1="367" y1="247" x2="367" y2="255.5" stroke="#000" stroke-width="1.15"/>
<rect x="347.5" y="255.5" width="28.5" height="3.5" fill="none" stroke="#000" stroke-width="1.7"/>
<path d="M339,271.5 L339,262 Q339,259.6 341.5,259.6 L382,259.6 Q384.5,259.6 384.5,262 L384.5,271.5 Z" fill="none" stroke="#000" stroke-width="1.7" stroke-linejoin="round" stroke-linecap="round"/>
<path d="M339,271.5 L333,274 Q331.5,274.8 331.5,277 L331.5,336.5 L339,344.5 L384.5,344.5 L392.5,336.5 L392.5,277 Q392.5,274.8 391,274 L384.5,271.5" fill="none" stroke="#000" stroke-width="1.7" stroke-linejoin="round" stroke-linecap="round"/>
<line x1="331.5" y1="336.5" x2="392.5" y2="336.5" stroke="#000" stroke-width="1.7"/>
<path d="M339.5,344.5 L339.5,372 Q339.5,374.5 342,374.5 L382,374.5 Q384.5,374.5 384.5,372 L384.5,344.5" fill="none" stroke="#000" stroke-width="1.7" stroke-linejoin="round" stroke-linecap="round"/>
<path d="M346.5,374.5 L346.5,384 Q346.5,386.5 349,386.5 L374,386.5 Q376.5,386.5 376.5,384 L376.5,374.5" fill="none" stroke="#000" stroke-width="1.7" stroke-linejoin="round" stroke-linecap="round"/>
<path d="M380.5,422.5 L380.5,325 L384.5,325 L384.5,422.5" fill="none" stroke="#000" stroke-width="1.15" stroke-linejoin="round" stroke-linecap="round"/>
<rect x="350.6" y="387.4" width="5.7" height="15.3" fill="none" stroke="#000" stroke-width="1.15"/>
<rect x="367.2" y="387.4" width="5.8" height="15.3" fill="none" stroke="#000" stroke-width="1.15"/>
<rect x="357.3" y="387.4" width="8.9" height="11.8" fill="none" stroke="#000" stroke-width="1.15"/>
<line x1="357.3" y1="392.8" x2="366.2" y2="392.8" stroke="#1a1a1a" stroke-width="0.95"/>
<line x1="357.3" y1="394.7" x2="366.2" y2="394.7" stroke="#1a1a1a" stroke-width="0.95"/>
<polyline points="350.6,389.6 348.2,390.2 346.7,393 346.7,398.5 348.2,401.2 350.6,401.8" fill="none" stroke="#000" stroke-width="1.7" stroke-linejoin="round"/>
<polyline points="373,389.6 375.4,390.2 376.9,393 376.9,398.5 375.4,401.2 373,401.8" fill="none" stroke="#000" stroke-width="1.7" stroke-linejoin="round"/>
<line x1="348.6" y1="393" x2="348.6" y2="399" stroke="#1a1a1a" stroke-width="0.95"/>
<line x1="375" y1="393" x2="375" y2="399" stroke="#1a1a1a" stroke-width="0.95"/>
<polyline points="351.8,403.7 348,403.7 346.4,405.6 346.4,414.6 348,416.5 351.8,416.5" fill="none" stroke="#000" stroke-width="1.7" stroke-linejoin="round"/>
<polyline points="371.8,403.7 375.6,403.7 377.2,405.6 377.2,414.6 375.6,416.5 371.8,416.5" fill="none" stroke="#000" stroke-width="1.7" stroke-linejoin="round"/>
<line x1="349" y1="406" x2="349" y2="414.5" stroke="#1a1a1a" stroke-width="0.95"/>
<line x1="374.6" y1="406" x2="374.6" y2="414.5" stroke="#1a1a1a" stroke-width="0.95"/>
<path d="M356.3,403.7 L351.8,403.7 L351.8,417 Q351.8,418.4 353.3,418.4 L359.2,418.4" fill="none" stroke="#000" stroke-width="1.7" stroke-linejoin="round" stroke-linecap="round"/>
<path d="M367.2,403.7 L371.8,403.7 L371.8,417 Q371.8,418.4 370.3,418.4 L364.6,418.4" fill="none" stroke="#000" stroke-width="1.7" stroke-linejoin="round" stroke-linecap="round"/>
<rect x="359.2" y="401" width="5.4" height="21" fill="#bdbdbd" stroke="#000" stroke-width="1.15"/>
<line x1="344" y1="396.5" x2="380" y2="396.5" stroke="#1a1a1a" stroke-width="0.95"/>
<line x1="343.5" y1="408.5" x2="380" y2="408.5" stroke="#1a1a1a" stroke-width="0.95"/>
<rect x="339.5" y="422.5" width="102" height="6" fill="none" stroke="#000" stroke-width="1.7"/>
<line x1="361.7" y1="200" x2="361.7" y2="435" stroke="#1a1a1a" stroke-width="0.95" stroke-dasharray="126.5 12.5 200"/>
<line x1="382.5" y1="418" x2="382.5" y2="435" stroke="#1a1a1a" stroke-width="0.95"/>
<line x1="403" y1="423" x2="403" y2="432" stroke="#1a1a1a" stroke-width="0.95"/>
<path d="M395.5,422.5 L395.5,228.5 Q395.5,226.5 397.5,226.5 L401,226.5 L401,422.5" fill="none" stroke="#000" stroke-width="1.7" stroke-linejoin="round" stroke-linecap="round"/>
<path d="M428,422.5 L428,228.5 Q428,226.5 430,226.5 L433.5,226.5 L433.5,422.5" fill="none" stroke="#000" stroke-width="1.7" stroke-linejoin="round" stroke-linecap="round"/>
<path d="M401.5,258.5 L401.5,209 L406.5,209 L406.5,258.5" fill="none" stroke="#000" stroke-width="1.7" stroke-linejoin="round" stroke-linecap="round"/>
<path d="M422.5,258.5 L422.5,209 L427.5,209 L427.5,258.5" fill="none" stroke="#000" stroke-width="1.7" stroke-linejoin="round" stroke-linecap="round"/>
<line x1="401.5" y1="258.5" x2="406.5" y2="258.5" stroke="#000" stroke-width="1.7"/>
<line x1="422.5" y1="258.5" x2="427.5" y2="258.5" stroke="#000" stroke-width="1.7"/>
<line x1="406.5" y1="257.4" x2="422.5" y2="257.4" stroke="#000" stroke-width="1.15"/>
<line x1="406.5" y1="215" x2="422.5" y2="215" stroke="#000" stroke-width="1.7"/>
<line x1="406.5" y1="225" x2="422.5" y2="225" stroke="#000" stroke-width="1.7"/>
<line x1="406.5" y1="231" x2="422.5" y2="231" stroke="#000" stroke-width="1.15"/>
<line x1="406.5" y1="237" x2="422.5" y2="237" stroke="#000" stroke-width="1.15"/>
<line x1="406.5" y1="243" x2="422.5" y2="243" stroke="#000" stroke-width="1.15"/>
<rect x="427.5" y="215" width="4.5" height="10" fill="none" stroke="#000" stroke-width="1.15"/>
<line x1="429.8" y1="215" x2="429.8" y2="225" stroke="#1a1a1a" stroke-width="0.95"/>
<path d="M395.5,229.5 Q392,230 392,236.5 Q392,243.5 395.5,244.5" fill="none" stroke="#000" stroke-width="1.7" stroke-linejoin="round" stroke-linecap="round"/>
<path d="M433.5,229.5 Q437,230 437,236.5 Q437,243.5 433.5,244.5" fill="none" stroke="#000" stroke-width="1.7" stroke-linejoin="round" stroke-linecap="round"/>
<line x1="394" y1="231" x2="394" y2="243" stroke="#000" stroke-width="1.15"/>
<line x1="435" y1="231" x2="435" y2="243" stroke="#000" stroke-width="1.15"/>
<line x1="389" y1="236.5" x2="441.5" y2="236.5" stroke="#1a1a1a" stroke-width="0.95"/>
<circle cx="414.5" cy="251" r="4.6" fill="none" stroke="#000" stroke-width="1.15"/>
<path d="M412.2,247 Q410.8,251 412.2,255" fill="none" stroke="#1a1a1a" stroke-width="0.95" stroke-linejoin="round" stroke-linecap="round"/>
<path d="M416.8,247 Q418.2,251 416.8,255" fill="none" stroke="#1a1a1a" stroke-width="0.95" stroke-linejoin="round" stroke-linecap="round"/>
<line x1="408" y1="251" x2="421" y2="251" stroke="#1a1a1a" stroke-width="0.95"/>
<line x1="408.2" y1="246.5" x2="408.2" y2="255.5" stroke="#1a1a1a" stroke-width="0.95"/>
<line x1="409.6" y1="246.5" x2="409.6" y2="255.5" stroke="#1a1a1a" stroke-width="0.95"/>
<line x1="419.6" y1="246.5" x2="419.6" y2="255.5" stroke="#1a1a1a" stroke-width="0.95"/>
<line x1="421" y1="246.5" x2="421" y2="255.5" stroke="#1a1a1a" stroke-width="0.95"/>
<line x1="407" y1="246" x2="422" y2="246" stroke="#000" stroke-width="1.15"/>
<line x1="407" y1="256" x2="422" y2="256" stroke="#000" stroke-width="1.15"/>
<line x1="400" y1="280" x2="429" y2="280" stroke="#000" stroke-width="2.2"/>
<line x1="400" y1="286.6" x2="429" y2="286.6" stroke="#000" stroke-width="2.2"/>
<line x1="401" y1="283.2" x2="428" y2="283.2" stroke="#1a1a1a" stroke-width="0.95"/>
<line x1="401" y1="278" x2="428" y2="278" stroke="#666" stroke-width="0.95"/>
<rect x="434.2" y="281" width="2.8" height="6" fill="none" stroke="#1a1a1a" stroke-width="0.95"/>
<line x1="432" y1="284" x2="441" y2="284" stroke="#1a1a1a" stroke-width="0.95"/>
<rect x="403.5" y="304.5" width="22.5" height="10.5" fill="none" stroke="#555" stroke-width="0.95"/>
<circle cx="408.5" cy="309.5" r="2.9" fill="none" stroke="#1a1a1a" stroke-width="0.95"/>
<line x1="403.7" y1="309.5" x2="413.3" y2="309.5" stroke="#1a1a1a" stroke-width="0.95"/>
<line x1="408.5" y1="304.7" x2="408.5" y2="314.3" stroke="#1a1a1a" stroke-width="0.95"/>
<circle cx="420.2" cy="309.5" r="2.9" fill="none" stroke="#1a1a1a" stroke-width="0.95"/>
<line x1="415.4" y1="309.5" x2="425" y2="309.5" stroke="#1a1a1a" stroke-width="0.95"/>
<line x1="420.2" y1="304.7" x2="420.2" y2="314.3" stroke="#1a1a1a" stroke-width="0.95"/>
<line x1="402.5" y1="315" x2="402.5" y2="392.5" stroke="#000" stroke-width="1.15"/>
<line x1="405" y1="315" x2="405" y2="392.5" stroke="#1a1a1a" stroke-width="0.95"/>
<line x1="408.5" y1="315" x2="408.5" y2="392.5" stroke="#000" stroke-width="1.15"/>
<line x1="420.5" y1="315" x2="420.5" y2="392.5" stroke="#000" stroke-width="1.15"/>
<line x1="424.5" y1="315" x2="424.5" y2="392.5" stroke="#1a1a1a" stroke-width="0.95"/>
<line x1="427" y1="315" x2="427" y2="392.5" stroke="#000" stroke-width="1.15"/>
<line x1="402.5" y1="317.5" x2="427" y2="317.5" stroke="#000" stroke-width="1.15"/>
<line x1="402.5" y1="321.5" x2="427" y2="321.5" stroke="#000" stroke-width="1.15"/>
<rect x="401" y="315.2" width="3.2" height="6.8" fill="#666" stroke="#1a1a1a" stroke-width="0.95"/>
<rect x="424.4" y="315.2" width="3.4" height="6.8" fill="#666" stroke="#1a1a1a" stroke-width="0.95"/>
<circle cx="414.3" cy="329" r="3.4" fill="none" stroke="#000" stroke-width="1.4"/>
<line x1="411.5" y1="329" x2="417" y2="329" stroke="#1a1a1a" stroke-width="0.95"/>
<circle cx="414.3" cy="377.5" r="3.4" fill="none" stroke="#000" stroke-width="1.4"/>
<line x1="411.5" y1="377.5" x2="417" y2="377.5" stroke="#1a1a1a" stroke-width="0.95"/>
<line x1="408.5" y1="347.5" x2="420.5" y2="347.5" stroke="#000" stroke-width="1.15"/>
<line x1="408.5" y1="358.5" x2="420.5" y2="358.5" stroke="#000" stroke-width="1.15"/>
<line x1="414.3" y1="300" x2="414.3" y2="400" stroke="#1a1a1a" stroke-width="0.95"/>
<line x1="414.3" y1="333" x2="415.5" y2="347" stroke="#1a1a1a" stroke-width="0.95"/>
<line x1="415.5" y1="359" x2="414.3" y2="374" stroke="#1a1a1a" stroke-width="0.95"/>
<circle cx="404" cy="352.5" r="1.1" fill="none" stroke="#1a1a1a" stroke-width="0.95"/>
<circle cx="424.8" cy="352.5" r="1.1" fill="none" stroke="#1a1a1a" stroke-width="0.95"/>
<line x1="405" y1="392" x2="409.5" y2="382" stroke="#1a1a1a" stroke-width="0.95"/>
<line x1="424.5" y1="392" x2="419.5" y2="382" stroke="#1a1a1a" stroke-width="0.95"/>
<line x1="402.5" y1="322" x2="405" y2="345" stroke="#1a1a1a" stroke-width="0.95"/>
<line x1="400" y1="392.6" x2="429" y2="392.6" stroke="#000" stroke-width="1.7"/>
<line x1="400" y1="397.2" x2="429" y2="397.2" stroke="#000" stroke-width="1.15"/>
<line x1="400" y1="399.6" x2="429" y2="399.6" stroke="#000" stroke-width="1.7"/>
<line x1="385" y1="408.8" x2="437.5" y2="408.8" stroke="#1a1a1a" stroke-width="0.95"/>
<line x1="401" y1="403" x2="401" y2="422" stroke="#000" stroke-width="1.15"/>
<line x1="428" y1="403" x2="428" y2="422" stroke="#000" stroke-width="1.15"/>
<path d="M396.3,388.5 L391,388.5 Q389.4,389 389.6,391 L389.8,396" fill="none" stroke="#000" stroke-width="2" stroke-linejoin="round" stroke-linecap="round"/>
<line x1="388.6" y1="390.5" x2="391.4" y2="390.5" stroke="#000" stroke-width="1.15"/>
<line x1="388.6" y1="392.5" x2="391.4" y2="392.5" stroke="#000" stroke-width="1.15"/>
<line x1="388.6" y1="394.5" x2="391.4" y2="394.5" stroke="#000" stroke-width="1.15"/>
<path d="M391,399 Q387.4,404 387.4,409 Q387.4,415 391.6,419.2 L395.5,419.2" fill="none" stroke="#000" stroke-width="1.7" stroke-linejoin="round" stroke-linecap="round"/>
<line x1="390.2" y1="402.5" x2="390.2" y2="416" stroke="#8a8a8a" stroke-width="2"/>
<path d="M433.6,399.2 Q438.6,404 438.2,409.5 Q437.8,415 433.6,418.6 Z" fill="#000" stroke="#000" stroke-width="1.15" stroke-linejoin="round" stroke-linecap="round"/>
<line x1="437.5" y1="407" x2="440.5" y2="409.8" stroke="#000" stroke-width="1.15"/>
<rect x="434" y="388.3" width="3" height="7.7" fill="none" stroke="#1a1a1a" stroke-width="0.95"/>
<line x1="434" y1="390.8" x2="437" y2="390.8" stroke="#1a1a1a" stroke-width="0.95"/>
<line x1="434" y1="393.4" x2="437" y2="393.4" stroke="#1a1a1a" stroke-width="0.95"/>
<line x1="414.5" y1="161.7" x2="414.5" y2="258" stroke="#1a1a1a" stroke-width="0.95"/>
<line x1="414.5" y1="170.8" x2="482.3" y2="170.8" stroke="#1a1a1a" stroke-width="0.95"/>
<polygon points="414.5,170.8 429,169.05 429,172.55" fill="#000" stroke="#000" stroke-width="0.3"/>
<polygon points="482.3,170.8 467.8,172.55 467.8,169.05" fill="#000" stroke="#000" stroke-width="0.3"/>
<line x1="331.6" y1="184.4" x2="331.6" y2="275" stroke="#1a1a1a" stroke-width="0.95"/>
<line x1="436.6" y1="184.4" x2="436.6" y2="232" stroke="#1a1a1a" stroke-width="0.95"/>
<line x1="331.6" y1="193.5" x2="476.5" y2="193.5" stroke="#1a1a1a" stroke-width="0.95"/>
<polygon points="331.6,193.5 346.1,191.75 346.1,195.25" fill="#000" stroke="#000" stroke-width="0.3"/>
<polygon points="414.5,193.5 400,195.25 400,191.75" fill="#000" stroke="#000" stroke-width="0.3"/>
<polygon points="436.6,193.5 451.1,191.75 451.1,195.25" fill="#000" stroke="#000" stroke-width="0.3"/>
<line x1="293.5" y1="200.2" x2="362" y2="200.2" stroke="#1a1a1a" stroke-width="0.95"/>
<line x1="301" y1="200.2" x2="301" y2="428.5" stroke="#1a1a1a" stroke-width="0.95"/>
<polygon points="301,200.2 302.75,214.7 299.25,214.7" fill="#000" stroke="#000" stroke-width="0.3"/>
<polygon points="301,428.5 299.25,414 302.75,414" fill="#000" stroke="#000" stroke-width="0.3"/>
<line x1="293.5" y1="428.5" x2="339.5" y2="428.5" stroke="#1a1a1a" stroke-width="0.95"/>
<line x1="386" y1="277.8" x2="448" y2="277.8" stroke="#1a1a1a" stroke-width="0.95"/>
<polygon points="395.5,277.8 387,279.2 387,276.4" fill="#000" stroke="#000" stroke-width="0.3"/>
<polygon points="433.5,277.8 442,276.4 442,279.2" fill="#000" stroke="#000" stroke-width="0.3"/>
<line x1="434.5" y1="428.5" x2="434.5" y2="474.6" stroke="#1a1a1a" stroke-width="0.95"/>
<line x1="434.5" y1="465.8" x2="482.3" y2="465.8" stroke="#1a1a1a" stroke-width="0.95"/>
<polygon points="434.5,465.8 449,464.05 449,467.55" fill="#000" stroke="#000" stroke-width="0.3"/>
<polygon points="482.3,465.8 467.8,467.55 467.8,464.05" fill="#000" stroke="#000" stroke-width="0.3"/>
<path d="M608.1,209 L608.1,205.5 Q607.6,200.4 602.9,199.3 Q598.1,200.4 597.6,205.5 L597.6,209" fill="none" stroke="#1a1a1a" stroke-width="0.95" stroke-linejoin="round" stroke-linecap="round"/>
<line x1="608.1" y1="204.2" x2="597.6" y2="204.2" stroke="#1a1a1a" stroke-width="0.95"/>
<line x1="608.1" y1="206.8" x2="597.6" y2="206.8" stroke="#1a1a1a" stroke-width="0.95"/>
<line x1="605.4" y1="202" x2="605.4" y2="209" stroke="#1a1a1a" stroke-width="0.95"/>
<line x1="600.4" y1="202" x2="600.4" y2="209" stroke="#1a1a1a" stroke-width="0.95"/>
<path d="M614.6,209 L610.1,209 L610.1,226.5 M614.6,209 L614.6,232 L612.1,235" fill="none" stroke="#000" stroke-width="1.7" stroke-linejoin="round" stroke-linecap="round"/>
<path d="M590.6,209 L595.1,209 L595.1,226.5 M590.6,209 L590.6,232 L593.1,235" fill="none" stroke="#000" stroke-width="1.7" stroke-linejoin="round" stroke-linecap="round"/>
<line x1="607.1" y1="209" x2="607.1" y2="226.5" stroke="#000" stroke-width="1.15"/>
<line x1="598.1" y1="209" x2="598.1" y2="226.5" stroke="#000" stroke-width="1.15"/>
<line x1="608.8" y1="213" x2="608.8" y2="224" stroke="#1a1a1a" stroke-width="0.95"/>
<line x1="596.4" y1="213" x2="596.4" y2="224" stroke="#1a1a1a" stroke-width="0.95"/>
<line x1="590.6" y1="215" x2="563.1" y2="215" stroke="#000" stroke-width="1.7"/>
<line x1="590.6" y1="225" x2="563.1" y2="225" stroke="#000" stroke-width="1.7"/>
<line x1="624.6" y1="220" x2="527.6" y2="220" stroke="#1a1a1a" stroke-width="0.95"/>
<rect x="614.6" y="215.5" width="6" height="9.5" fill="none" stroke="#000" stroke-width="1.15"/>
<line x1="618.1" y1="215.5" x2="618.1" y2="225" stroke="#1a1a1a" stroke-width="0.95"/>
<rect x="594.1" y="226.5" width="18" height="20.5" fill="none" stroke="#000" stroke-width="1.7"/>
<rect x="592.1" y="247" width="21" height="8.5" fill="none" stroke="#000" stroke-width="1.7"/>
<line x1="608.1" y1="247" x2="608.1" y2="255.5" stroke="#000" stroke-width="1.15"/>
<line x1="597.6" y1="247" x2="597.6" y2="255.5" stroke="#000" stroke-width="1.15"/>
<rect x="588.6" y="255.5" width="28.5" height="3.5" fill="none" stroke="#000" stroke-width="1.7"/>
<path d="M625.6,271.5 L625.6,262 Q625.6,259.6 623.1,259.6 L582.6,259.6 Q580.1,259.6 580.1,262 L580.1,271.5 Z" fill="none" stroke="#000" stroke-width="1.7" stroke-linejoin="round" stroke-linecap="round"/>
<path d="M625.6,271.5 L631.6,274 Q633.1,274.8 633.1,277 L633.1,336.5 L625.6,344.5 L580.1,344.5 L572.1,336.5 L572.1,277 Q572.1,274.8 573.6,274 L580.1,271.5" fill="none" stroke="#000" stroke-width="1.7" stroke-linejoin="round" stroke-linecap="round"/>
<line x1="633.1" y1="336.5" x2="572.1" y2="336.5" stroke="#000" stroke-width="1.7"/>
<path d="M625.1,344.5 L625.1,372 Q625.1,374.5 622.6,374.5 L582.6,374.5 Q580.1,374.5 580.1,372 L580.1,344.5" fill="none" stroke="#000" stroke-width="1.7" stroke-linejoin="round" stroke-linecap="round"/>
<path d="M618.1,374.5 L618.1,384 Q618.1,386.5 615.6,386.5 L590.6,386.5 Q588.1,386.5 588.1,384 L588.1,374.5" fill="none" stroke="#000" stroke-width="1.7" stroke-linejoin="round" stroke-linecap="round"/>
<path d="M584.1,422.5 L584.1,325 L580.1,325 L580.1,422.5" fill="none" stroke="#000" stroke-width="1.15" stroke-linejoin="round" stroke-linecap="round"/>
<rect x="608.3" y="387.4" width="5.7" height="15.3" fill="none" stroke="#000" stroke-width="1.15"/>
<rect x="591.6" y="387.4" width="5.8" height="15.3" fill="none" stroke="#000" stroke-width="1.15"/>
<rect x="598.4" y="387.4" width="8.9" height="11.8" fill="none" stroke="#000" stroke-width="1.15"/>
<line x1="607.3" y1="392.8" x2="598.4" y2="392.8" stroke="#1a1a1a" stroke-width="0.95"/>
<line x1="607.3" y1="394.7" x2="598.4" y2="394.7" stroke="#1a1a1a" stroke-width="0.95"/>
<polyline points="614,389.6 616.4,390.2 617.9,393 617.9,398.5 616.4,401.2 614,401.8" fill="none" stroke="#000" stroke-width="1.7" stroke-linejoin="round"/>
<polyline points="591.6,389.6 589.2,390.2 587.7,393 587.7,398.5 589.2,401.2 591.6,401.8" fill="none" stroke="#000" stroke-width="1.7" stroke-linejoin="round"/>
<line x1="616" y1="393" x2="616" y2="399" stroke="#1a1a1a" stroke-width="0.95"/>
<line x1="589.6" y1="393" x2="589.6" y2="399" stroke="#1a1a1a" stroke-width="0.95"/>
<polyline points="612.8,403.7 616.6,403.7 618.2,405.6 618.2,414.6 616.6,416.5 612.8,416.5" fill="none" stroke="#000" stroke-width="1.7" stroke-linejoin="round"/>
<polyline points="592.8,403.7 589,403.7 587.4,405.6 587.4,414.6 589,416.5 592.8,416.5" fill="none" stroke="#000" stroke-width="1.7" stroke-linejoin="round"/>
<line x1="615.6" y1="406" x2="615.6" y2="414.5" stroke="#1a1a1a" stroke-width="0.95"/>
<line x1="590" y1="406" x2="590" y2="414.5" stroke="#1a1a1a" stroke-width="0.95"/>
<path d="M608.3,403.7 L612.8,403.7 L612.8,417 Q612.8,418.4 611.3,418.4 L605.4,418.4" fill="none" stroke="#000" stroke-width="1.7" stroke-linejoin="round" stroke-linecap="round"/>
<path d="M597.4,403.7 L592.8,403.7 L592.8,417 Q592.8,418.4 594.3,418.4 L600,418.4" fill="none" stroke="#000" stroke-width="1.7" stroke-linejoin="round" stroke-linecap="round"/>
<rect x="600" y="401" width="5.4" height="21" fill="#bdbdbd" stroke="#000" stroke-width="1.15"/>
<line x1="620.6" y1="396.5" x2="584.6" y2="396.5" stroke="#1a1a1a" stroke-width="0.95"/>
<line x1="621.1" y1="408.5" x2="584.6" y2="408.5" stroke="#1a1a1a" stroke-width="0.95"/>
<rect x="523.1" y="422.5" width="102" height="6" fill="none" stroke="#000" stroke-width="1.7"/>
<line x1="602.9" y1="200" x2="602.9" y2="435" stroke="#1a1a1a" stroke-width="0.95" stroke-dasharray="126.5 12.5 200"/>
<line x1="582.1" y1="418" x2="582.1" y2="435" stroke="#1a1a1a" stroke-width="0.95"/>
<line x1="561.6" y1="423" x2="561.6" y2="432" stroke="#1a1a1a" stroke-width="0.95"/>
<path d="M569.1,422.5 L569.1,228.5 Q569.1,226.5 567.1,226.5 L563.6,226.5 L563.6,422.5" fill="none" stroke="#000" stroke-width="1.7" stroke-linejoin="round" stroke-linecap="round"/>
<path d="M536.6,422.5 L536.6,228.5 Q536.6,226.5 534.6,226.5 L531.1,226.5 L531.1,422.5" fill="none" stroke="#000" stroke-width="1.7" stroke-linejoin="round" stroke-linecap="round"/>
<path d="M563.1,258.5 L563.1,209 L558.1,209 L558.1,258.5" fill="none" stroke="#000" stroke-width="1.7" stroke-linejoin="round" stroke-linecap="round"/>
<path d="M542.1,258.5 L542.1,209 L537.1,209 L537.1,258.5" fill="none" stroke="#000" stroke-width="1.7" stroke-linejoin="round" stroke-linecap="round"/>
<line x1="563.1" y1="258.5" x2="558.1" y2="258.5" stroke="#000" stroke-width="1.7"/>
<line x1="542.1" y1="258.5" x2="537.1" y2="258.5" stroke="#000" stroke-width="1.7"/>
<line x1="558.1" y1="257.4" x2="542.1" y2="257.4" stroke="#000" stroke-width="1.15"/>
<line x1="558.1" y1="215" x2="542.1" y2="215" stroke="#000" stroke-width="1.7"/>
<line x1="558.1" y1="225" x2="542.1" y2="225" stroke="#000" stroke-width="1.7"/>
<line x1="558.1" y1="231" x2="542.1" y2="231" stroke="#000" stroke-width="1.15"/>
<line x1="558.1" y1="237" x2="542.1" y2="237" stroke="#000" stroke-width="1.15"/>
<line x1="558.1" y1="243" x2="542.1" y2="243" stroke="#000" stroke-width="1.15"/>
<rect x="532.6" y="215" width="4.5" height="10" fill="none" stroke="#000" stroke-width="1.15"/>
<line x1="534.8" y1="215" x2="534.8" y2="225" stroke="#1a1a1a" stroke-width="0.95"/>
<path d="M569.1,229.5 Q572.6,230 572.6,236.5 Q572.6,243.5 569.1,244.5" fill="none" stroke="#000" stroke-width="1.7" stroke-linejoin="round" stroke-linecap="round"/>
<path d="M531.1,229.5 Q527.6,230 527.6,236.5 Q527.6,243.5 531.1,244.5" fill="none" stroke="#000" stroke-width="1.7" stroke-linejoin="round" stroke-linecap="round"/>
<line x1="570.6" y1="231" x2="570.6" y2="243" stroke="#000" stroke-width="1.15"/>
<line x1="529.6" y1="231" x2="529.6" y2="243" stroke="#000" stroke-width="1.15"/>
<line x1="575.6" y1="236.5" x2="523.1" y2="236.5" stroke="#1a1a1a" stroke-width="0.95"/>
<circle cx="550.1" cy="251" r="4.6" fill="none" stroke="#000" stroke-width="1.15"/>
<path d="M552.4,247 Q553.8,251 552.4,255" fill="none" stroke="#1a1a1a" stroke-width="0.95" stroke-linejoin="round" stroke-linecap="round"/>
<path d="M547.8,247 Q546.4,251 547.8,255" fill="none" stroke="#1a1a1a" stroke-width="0.95" stroke-linejoin="round" stroke-linecap="round"/>
<line x1="556.6" y1="251" x2="543.6" y2="251" stroke="#1a1a1a" stroke-width="0.95"/>
<line x1="556.4" y1="246.5" x2="556.4" y2="255.5" stroke="#1a1a1a" stroke-width="0.95"/>
<line x1="555" y1="246.5" x2="555" y2="255.5" stroke="#1a1a1a" stroke-width="0.95"/>
<line x1="545" y1="246.5" x2="545" y2="255.5" stroke="#1a1a1a" stroke-width="0.95"/>
<line x1="543.6" y1="246.5" x2="543.6" y2="255.5" stroke="#1a1a1a" stroke-width="0.95"/>
<line x1="557.6" y1="246" x2="542.6" y2="246" stroke="#000" stroke-width="1.15"/>
<line x1="557.6" y1="256" x2="542.6" y2="256" stroke="#000" stroke-width="1.15"/>
<line x1="564.6" y1="280" x2="535.6" y2="280" stroke="#000" stroke-width="2.2"/>
<line x1="564.6" y1="286.6" x2="535.6" y2="286.6" stroke="#000" stroke-width="2.2"/>
<line x1="563.6" y1="283.2" x2="536.6" y2="283.2" stroke="#1a1a1a" stroke-width="0.95"/>
<line x1="563.6" y1="278" x2="536.6" y2="278" stroke="#666" stroke-width="0.95"/>
<rect x="527.6" y="281" width="2.8" height="6" fill="none" stroke="#1a1a1a" stroke-width="0.95"/>
<line x1="532.6" y1="284" x2="523.6" y2="284" stroke="#1a1a1a" stroke-width="0.95"/>
<rect x="538.6" y="304.5" width="22.5" height="10.5" fill="none" stroke="#555" stroke-width="0.95"/>
<circle cx="556.1" cy="309.5" r="2.9" fill="none" stroke="#1a1a1a" stroke-width="0.95"/>
<line x1="560.9" y1="309.5" x2="551.3" y2="309.5" stroke="#1a1a1a" stroke-width="0.95"/>
<line x1="556.1" y1="304.7" x2="556.1" y2="314.3" stroke="#1a1a1a" stroke-width="0.95"/>
<circle cx="544.4" cy="309.5" r="2.9" fill="none" stroke="#1a1a1a" stroke-width="0.95"/>
<line x1="549.2" y1="309.5" x2="539.6" y2="309.5" stroke="#1a1a1a" stroke-width="0.95"/>
<line x1="544.4" y1="304.7" x2="544.4" y2="314.3" stroke="#1a1a1a" stroke-width="0.95"/>
<line x1="562.1" y1="315" x2="562.1" y2="392.5" stroke="#000" stroke-width="1.15"/>
<line x1="559.6" y1="315" x2="559.6" y2="392.5" stroke="#1a1a1a" stroke-width="0.95"/>
<line x1="556.1" y1="315" x2="556.1" y2="392.5" stroke="#000" stroke-width="1.15"/>
<line x1="544.1" y1="315" x2="544.1" y2="392.5" stroke="#000" stroke-width="1.15"/>
<line x1="540.1" y1="315" x2="540.1" y2="392.5" stroke="#1a1a1a" stroke-width="0.95"/>
<line x1="537.6" y1="315" x2="537.6" y2="392.5" stroke="#000" stroke-width="1.15"/>
<line x1="562.1" y1="317.5" x2="537.6" y2="317.5" stroke="#000" stroke-width="1.15"/>
<line x1="562.1" y1="321.5" x2="537.6" y2="321.5" stroke="#000" stroke-width="1.15"/>
<rect x="560.4" y="315.2" width="3.2" height="6.8" fill="#666" stroke="#1a1a1a" stroke-width="0.95"/>
<rect x="536.8" y="315.2" width="3.4" height="6.8" fill="#666" stroke="#1a1a1a" stroke-width="0.95"/>
<circle cx="550.3" cy="329" r="3.4" fill="none" stroke="#000" stroke-width="1.4"/>
<line x1="553.1" y1="329" x2="547.6" y2="329" stroke="#1a1a1a" stroke-width="0.95"/>
<circle cx="550.3" cy="377.5" r="3.4" fill="none" stroke="#000" stroke-width="1.4"/>
<line x1="553.1" y1="377.5" x2="547.6" y2="377.5" stroke="#1a1a1a" stroke-width="0.95"/>
<line x1="556.1" y1="347.5" x2="544.1" y2="347.5" stroke="#000" stroke-width="1.15"/>
<line x1="556.1" y1="358.5" x2="544.1" y2="358.5" stroke="#000" stroke-width="1.15"/>
<line x1="550.3" y1="300" x2="550.3" y2="400" stroke="#1a1a1a" stroke-width="0.95"/>
<line x1="550.3" y1="333" x2="549.1" y2="347" stroke="#1a1a1a" stroke-width="0.95"/>
<line x1="549.1" y1="359" x2="550.3" y2="374" stroke="#1a1a1a" stroke-width="0.95"/>
<circle cx="560.6" cy="352.5" r="1.1" fill="none" stroke="#1a1a1a" stroke-width="0.95"/>
<circle cx="539.8" cy="352.5" r="1.1" fill="none" stroke="#1a1a1a" stroke-width="0.95"/>
<line x1="559.6" y1="392" x2="555.1" y2="382" stroke="#1a1a1a" stroke-width="0.95"/>
<line x1="540.1" y1="392" x2="545.1" y2="382" stroke="#1a1a1a" stroke-width="0.95"/>
<line x1="562.1" y1="322" x2="559.6" y2="345" stroke="#1a1a1a" stroke-width="0.95"/>
<line x1="564.6" y1="392.6" x2="535.6" y2="392.6" stroke="#000" stroke-width="1.7"/>
<line x1="564.6" y1="397.2" x2="535.6" y2="397.2" stroke="#000" stroke-width="1.15"/>
<line x1="564.6" y1="399.6" x2="535.6" y2="399.6" stroke="#000" stroke-width="1.7"/>
<line x1="579.6" y1="408.8" x2="527.1" y2="408.8" stroke="#1a1a1a" stroke-width="0.95"/>
<line x1="563.6" y1="403" x2="563.6" y2="422" stroke="#000" stroke-width="1.15"/>
<line x1="536.6" y1="403" x2="536.6" y2="422" stroke="#000" stroke-width="1.15"/>
<path d="M568.3,388.5 L573.6,388.5 Q575.2,389 575,391 L574.8,396" fill="none" stroke="#000" stroke-width="2" stroke-linejoin="round" stroke-linecap="round"/>
<line x1="576" y1="390.5" x2="573.2" y2="390.5" stroke="#000" stroke-width="1.15"/>
<line x1="576" y1="392.5" x2="573.2" y2="392.5" stroke="#000" stroke-width="1.15"/>
<line x1="576" y1="394.5" x2="573.2" y2="394.5" stroke="#000" stroke-width="1.15"/>
<path d="M573.6,399 Q577.2,404 577.2,409 Q577.2,415 573,419.2 L569.1,419.2" fill="none" stroke="#000" stroke-width="1.7" stroke-linejoin="round" stroke-linecap="round"/>
<line x1="574.4" y1="402.5" x2="574.4" y2="416" stroke="#8a8a8a" stroke-width="2"/>
<path d="M531,399.2 Q526,404 526.4,409.5 Q526.8,415 531,418.6 Z" fill="#000" stroke="#000" stroke-width="1.15" stroke-linejoin="round" stroke-linecap="round"/>
<line x1="527.1" y1="407" x2="524.1" y2="409.8" stroke="#000" stroke-width="1.15"/>
<rect x="527.6" y="388.3" width="3" height="7.7" fill="none" stroke="#1a1a1a" stroke-width="0.95"/>
<line x1="530.6" y1="390.8" x2="527.6" y2="390.8" stroke="#1a1a1a" stroke-width="0.95"/>
<line x1="530.6" y1="393.4" x2="527.6" y2="393.4" stroke="#1a1a1a" stroke-width="0.95"/>
<line x1="550.1" y1="161.7" x2="550.1" y2="258" stroke="#1a1a1a" stroke-width="0.95"/>
<line x1="550.1" y1="170.8" x2="482.3" y2="170.8" stroke="#1a1a1a" stroke-width="0.95"/>
<polygon points="550.1,170.8 535.6,169.05 535.6,172.55" fill="#000" stroke="#000" stroke-width="0.3"/>
<polygon points="482.3,170.8 496.8,172.55 496.8,169.05" fill="#000" stroke="#000" stroke-width="0.3"/>
<line x1="633" y1="184.4" x2="633" y2="275" stroke="#1a1a1a" stroke-width="0.95"/>
<line x1="528" y1="184.4" x2="528" y2="232" stroke="#1a1a1a" stroke-width="0.95"/>
<line x1="633" y1="193.5" x2="488.1" y2="193.5" stroke="#1a1a1a" stroke-width="0.95"/>
<polygon points="633,193.5 618.5,191.75 618.5,195.25" fill="#000" stroke="#000" stroke-width="0.3"/>
<polygon points="550.1,193.5 564.6,195.25 564.6,191.75" fill="#000" stroke="#000" stroke-width="0.3"/>
<polygon points="528,193.5 513.5,191.75 513.5,195.25" fill="#000" stroke="#000" stroke-width="0.3"/>
<line x1="671.1" y1="200.2" x2="602.6" y2="200.2" stroke="#1a1a1a" stroke-width="0.95"/>
<line x1="663.6" y1="200.2" x2="663.6" y2="428.5" stroke="#1a1a1a" stroke-width="0.95"/>
<polygon points="663.6,200.2 661.85,214.7 665.35,214.7" fill="#000" stroke="#000" stroke-width="0.3"/>
<polygon points="663.6,428.5 665.35,414 661.85,414" fill="#000" stroke="#000" stroke-width="0.3"/>
<line x1="671.1" y1="428.5" x2="625.1" y2="428.5" stroke="#1a1a1a" stroke-width="0.95"/>
<line x1="578.6" y1="277.8" x2="516.6" y2="277.8" stroke="#1a1a1a" stroke-width="0.95"/>
<polygon points="569.1,277.8 577.6,279.2 577.6,276.4" fill="#000" stroke="#000" stroke-width="0.3"/>
<polygon points="531.1,277.8 522.6,276.4 522.6,279.2" fill="#000" stroke="#000" stroke-width="0.3"/>
<line x1="530.1" y1="428.5" x2="530.1" y2="474.6" stroke="#1a1a1a" stroke-width="0.95"/>
<line x1="530.1" y1="465.8" x2="482.3" y2="465.8" stroke="#1a1a1a" stroke-width="0.95"/>
<polygon points="530.1,465.8 515.6,464.05 515.6,467.55" fill="#000" stroke="#000" stroke-width="0.3"/>
<polygon points="482.3,465.8 496.8,467.55 496.8,464.05" fill="#000" stroke="#000" stroke-width="0.3"/>
<path d="M412.57,301.75 A86.3,86.3 0 0 1 552.03,301.75" fill="none" stroke="#1a1a1a" stroke-width="0.95" stroke-linejoin="round" stroke-linecap="round"/>
<path d="M563.65,381.41 A86.3,86.3 0 0 1 414.76,406.32" fill="none" stroke="#1a1a1a" stroke-width="0.95" stroke-linejoin="round" stroke-linecap="round"/>
<path d="M423.54,310.99 A72,72 0 0 1 515.55,288.74" fill="none" stroke="#1a1a1a" stroke-width="0.95" stroke-linejoin="round" stroke-linecap="round"/>
<path d="M526.13,295.48 A72,72 0 0 1 532.77,301.25" fill="none" stroke="#1a1a1a" stroke-width="0.95" stroke-linejoin="round" stroke-linecap="round"/>
<path d="M528.58,407.76 A72,72 0 0 1 449.61,416.75" fill="none" stroke="#1a1a1a" stroke-width="0.95" stroke-linejoin="round" stroke-linecap="round"/>
<path d="M504.12,313.24 A45,45 0 1 1 450.48,320.78" fill="none" stroke="#1a1a1a" stroke-width="0.95" stroke-linejoin="round" stroke-linecap="round"/>
<path d="M460.48,313.24 A45,45 0 0 1 469.9,309.34" fill="none" stroke="#1a1a1a" stroke-width="0.95" stroke-linejoin="round" stroke-linecap="round"/>
<path d="M483.09,307.61 A45,45 0 0 1 492.42,308.75" fill="none" stroke="#1a1a1a" stroke-width="0.95" stroke-linejoin="round" stroke-linecap="round"/>
<line x1="482.3" y1="162" x2="482.3" y2="474.6" stroke="#1a1a1a" stroke-width="0.95" stroke-dasharray="118.5 13.5 12 13 500"/>
<line x1="393.5" y1="352.6" x2="513.5" y2="352.6" stroke="#1a1a1a" stroke-width="0.95"/>
<line x1="526" y1="352.6" x2="571" y2="352.6" stroke="#1a1a1a" stroke-width="0.95"/>
<line x1="510.82" y1="434.05" x2="453.78" y2="271.15" stroke="#1a1a1a" stroke-width="0.95"/>
<polygon points="453.78,271.15 459.72,282.84 456.42,284" fill="#000" stroke="#000" stroke-width="0.3"/>
<polygon points="510.82,434.05 504.88,422.36 508.18,421.2" fill="#000" stroke="#000" stroke-width="0.3"/>
<line x1="445.73" y1="413.46" x2="518.87" y2="291.74" stroke="#1a1a1a" stroke-width="0.95"/>
<polygon points="518.87,291.74 513.67,303.79 510.67,301.98" fill="#000" stroke="#000" stroke-width="0.3"/>
<polygon points="445.73,413.46 450.93,401.41 453.93,403.22" fill="#000" stroke="#000" stroke-width="0.3"/>
<line x1="439.34" y1="365.98" x2="525.26" y2="339.22" stroke="#1a1a1a" stroke-width="0.95"/>
<polygon points="525.26,339.22 513.37,344.75 512.33,341.41" fill="#000" stroke="#000" stroke-width="0.3"/>
<polygon points="439.34,365.98 451.23,360.45 452.27,363.79" fill="#000" stroke="#000" stroke-width="0.3"/>
<path d="M338.9,542.4 L437.5,542.4 Q441,542.4 441,545.9 L441,589.5 Q441,591.6 439,591.6 L418.7,591.6 Q417.2,591.6 417.2,593 L417.2,601 Q417.2,602.4 418.7,602.4 L439,602.4 Q441,602.4 441,604.4 L441,649.5 Q441,653 437.5,653 L338.9,653 Q335.4,653 335.4,649.5 L335.4,545.9 Q335.4,542.4 338.9,542.4 Z" fill="none" stroke="#000" stroke-width="1.45" stroke-linejoin="round" stroke-linecap="round"/>
<line x1="335.4" y1="548" x2="485.5" y2="548" stroke="#1a1a1a" stroke-width="0.95"/>
<line x1="335.4" y1="648" x2="485.5" y2="648" stroke="#1a1a1a" stroke-width="0.95"/>
<line x1="343" y1="522" x2="343" y2="656" stroke="#1a1a1a" stroke-width="0.95"/>
<line x1="389.6" y1="522" x2="389.6" y2="658" stroke="#1a1a1a" stroke-width="0.95"/>
<line x1="435.6" y1="522" x2="435.6" y2="678" stroke="#1a1a1a" stroke-width="0.95"/>
<circle cx="343" cy="548" r="2.5" fill="#777" stroke="#000" stroke-width="1.1"/>
<circle cx="343" cy="648" r="3.3" fill="#000" stroke="#000" stroke-width="1"/>
<circle cx="389.6" cy="548" r="2.5" fill="#777" stroke="#000" stroke-width="1.1"/>
<circle cx="389.6" cy="648" r="2.5" fill="#777" stroke="#000" stroke-width="1.1"/>
<circle cx="435.4" cy="548" r="2.5" fill="#777" stroke="#000" stroke-width="1.1"/>
<circle cx="435.4" cy="648" r="2.5" fill="#777" stroke="#000" stroke-width="1.1"/>
<rect x="332.6" y="600.4" width="48.4" height="60.6" rx="8" fill="none" stroke="#444" stroke-width="0.95"/>
<line x1="341" y1="597.6" x2="466" y2="597.6" stroke="#1a1a1a" stroke-width="0.95"/>
<rect x="351" y="555.6" width="10.8" height="21.4" fill="none" stroke="#000" stroke-width="1.3"/>
<rect x="348.2" y="564" width="16.6" height="5" fill="#fff" stroke="#000" stroke-width="1.4"/>
<line x1="348.6" y1="566.5" x2="365" y2="566.5" stroke="#1a1a1a" stroke-width="0.95"/>
<rect x="351" y="618" width="10.8" height="21.6" fill="none" stroke="#000" stroke-width="1.3"/>
<rect x="348.2" y="626.4" width="16.6" height="5" fill="#fff" stroke="#000" stroke-width="1.4"/>
<line x1="348.6" y1="628.9" x2="365" y2="628.9" stroke="#1a1a1a" stroke-width="0.95"/>
<line x1="356.6" y1="549" x2="356.6" y2="704" stroke="#1a1a1a" stroke-width="0.95"/>
<line x1="346" y1="566.4" x2="368" y2="566.4" stroke="#1a1a1a" stroke-width="0.95"/>
<line x1="346" y1="629" x2="368" y2="629" stroke="#1a1a1a" stroke-width="0.95"/>
<path d="M399.6,560.5 L428.4,560.5 L428.4,588 L414.2,588 L414.2,606.4 L428.4,606.4 L428.4,634.4 L399.6,634.4 Z" fill="none" stroke="#000" stroke-width="1.35" stroke-linejoin="round" stroke-linecap="round"/>
<rect x="397.2" y="568.5" width="33.9" height="9.6" fill="#fff" stroke="#000" stroke-width="1.35"/>
<rect x="397.2" y="617.6" width="33.9" height="9.6" fill="#fff" stroke="#000" stroke-width="1.35"/>
<line x1="397.2" y1="573.3" x2="431.1" y2="573.3" stroke="#1a1a1a" stroke-width="0.95"/>
<line x1="397.2" y1="622.4" x2="431.1" y2="622.4" stroke="#1a1a1a" stroke-width="0.95"/>
<line x1="394.5" y1="573.3" x2="397.2" y2="573.3" stroke="#1a1a1a" stroke-width="0.95"/>
<line x1="394.5" y1="622.4" x2="397.2" y2="622.4" stroke="#1a1a1a" stroke-width="0.95"/>
<line x1="414.4" y1="555" x2="414.4" y2="704" stroke="#1a1a1a" stroke-width="0.95"/>
<line x1="414.4" y1="638" x2="414.4" y2="657" stroke="#000" stroke-width="1.15"/>
<line x1="351" y1="556.2" x2="351.6" y2="555.6" stroke="#111" stroke-width="0.75"/>
<line x1="351" y1="561" x2="356.4" y2="555.6" stroke="#111" stroke-width="0.75"/>
<line x1="352.8" y1="564" x2="361.2" y2="555.6" stroke="#111" stroke-width="0.75"/>
<line x1="357.6" y1="564" x2="361.8" y2="559.8" stroke="#111" stroke-width="0.75"/>
<line x1="351" y1="570.6" x2="352.6" y2="569" stroke="#111" stroke-width="0.75"/>
<line x1="351" y1="575.4" x2="357.4" y2="569" stroke="#111" stroke-width="0.75"/>
<line x1="354.2" y1="577" x2="361.8" y2="569.4" stroke="#111" stroke-width="0.75"/>
<line x1="359" y1="577" x2="361.8" y2="574.2" stroke="#111" stroke-width="0.75"/>
<line x1="351" y1="618.6" x2="351.6" y2="618" stroke="#111" stroke-width="0.75"/>
<line x1="351" y1="623.4" x2="356.4" y2="618" stroke="#111" stroke-width="0.75"/>
<line x1="352.8" y1="626.4" x2="361.2" y2="618" stroke="#111" stroke-width="0.75"/>
<line x1="357.6" y1="626.4" x2="361.8" y2="622.2" stroke="#111" stroke-width="0.75"/>
<line x1="351" y1="633" x2="352.6" y2="631.4" stroke="#111" stroke-width="0.75"/>
<line x1="351" y1="637.8" x2="357.4" y2="631.4" stroke="#111" stroke-width="0.75"/>
<line x1="354" y1="639.6" x2="361.8" y2="631.8" stroke="#111" stroke-width="0.75"/>
<line x1="358.8" y1="639.6" x2="361.8" y2="636.6" stroke="#111" stroke-width="0.75"/>
<line x1="399.6" y1="566.8" x2="405.9" y2="560.5" stroke="#111" stroke-width="0.75"/>
<line x1="404.3" y1="568.5" x2="412.3" y2="560.5" stroke="#111" stroke-width="0.75"/>
<line x1="410.7" y1="568.5" x2="418.7" y2="560.5" stroke="#111" stroke-width="0.75"/>
<line x1="417.1" y1="568.5" x2="425.1" y2="560.5" stroke="#111" stroke-width="0.75"/>
<line x1="423.5" y1="568.5" x2="428.4" y2="563.6" stroke="#111" stroke-width="0.75"/>
<line x1="399.6" y1="579.6" x2="401.1" y2="578.1" stroke="#111" stroke-width="0.75"/>
<line x1="399.6" y1="586" x2="407.5" y2="578.1" stroke="#111" stroke-width="0.75"/>
<line x1="404" y1="588" x2="413.9" y2="578.1" stroke="#111" stroke-width="0.75"/>
<line x1="410.4" y1="588" x2="420.3" y2="578.1" stroke="#111" stroke-width="0.75"/>
<line x1="416.8" y1="588" x2="426.7" y2="578.1" stroke="#111" stroke-width="0.75"/>
<line x1="423.2" y1="588" x2="428.4" y2="582.8" stroke="#111" stroke-width="0.75"/>
<line x1="399.6" y1="592.4" x2="404" y2="588" stroke="#111" stroke-width="0.75"/>
<line x1="399.6" y1="598.8" x2="410.4" y2="588" stroke="#111" stroke-width="0.75"/>
<line x1="399.6" y1="605.2" x2="414.2" y2="590.6" stroke="#111" stroke-width="0.75"/>
<line x1="404.8" y1="606.4" x2="414.2" y2="597" stroke="#111" stroke-width="0.75"/>
<line x1="411.2" y1="606.4" x2="414.2" y2="603.4" stroke="#111" stroke-width="0.75"/>
<line x1="399.6" y1="611.6" x2="404.8" y2="606.4" stroke="#111" stroke-width="0.75"/>
<line x1="400" y1="617.6" x2="411.2" y2="606.4" stroke="#111" stroke-width="0.75"/>
<line x1="406.4" y1="617.6" x2="417.6" y2="606.4" stroke="#111" stroke-width="0.75"/>
<line x1="412.8" y1="617.6" x2="424" y2="606.4" stroke="#111" stroke-width="0.75"/>
<line x1="419.2" y1="617.6" x2="428.4" y2="608.4" stroke="#111" stroke-width="0.75"/>
<line x1="425.6" y1="617.6" x2="428.4" y2="614.8" stroke="#111" stroke-width="0.75"/>
<line x1="399.6" y1="630.8" x2="403.2" y2="627.2" stroke="#111" stroke-width="0.75"/>
<line x1="402.4" y1="634.4" x2="409.6" y2="627.2" stroke="#111" stroke-width="0.75"/>
<line x1="408.8" y1="634.4" x2="416" y2="627.2" stroke="#111" stroke-width="0.75"/>
<line x1="415.2" y1="634.4" x2="422.4" y2="627.2" stroke="#111" stroke-width="0.75"/>
<line x1="421.6" y1="634.4" x2="428.4" y2="627.6" stroke="#111" stroke-width="0.75"/>
<line x1="428" y1="634.4" x2="428.4" y2="634" stroke="#111" stroke-width="0.75"/>
<line x1="335.4" y1="500" x2="335.4" y2="542" stroke="#1a1a1a" stroke-width="0.95"/>
<line x1="441" y1="500" x2="441" y2="542" stroke="#1a1a1a" stroke-width="0.95"/>
<line x1="335.4" y1="509.6" x2="441" y2="509.6" stroke="#1a1a1a" stroke-width="0.95"/>
<polygon points="335.4,509.6 349.9,507.85 349.9,511.35" fill="#000" stroke="#000" stroke-width="0.3"/>
<polygon points="441,509.6 426.5,511.35 426.5,507.85" fill="#000" stroke="#000" stroke-width="0.3"/>
<line x1="343" y1="531.4" x2="435.6" y2="531.4" stroke="#1a1a1a" stroke-width="0.95"/>
<polygon points="343,531.4 357.5,529.65 357.5,533.15" fill="#000" stroke="#000" stroke-width="0.3"/>
<polygon points="389.6,531.4 375.1,533.15 375.1,529.65" fill="#000" stroke="#000" stroke-width="0.3"/>
<polygon points="389.6,531.4 404.1,529.65 404.1,533.15" fill="#000" stroke="#000" stroke-width="0.3"/>
<polygon points="435.6,531.4 421.1,533.15 421.1,529.65" fill="#000" stroke="#000" stroke-width="0.3"/>
<line x1="335.4" y1="653" x2="335.4" y2="704" stroke="#1a1a1a" stroke-width="0.95"/>
<line x1="441" y1="653" x2="441" y2="704" stroke="#1a1a1a" stroke-width="0.95"/>
<line x1="316" y1="695.6" x2="461" y2="695.6" stroke="#1a1a1a" stroke-width="0.95"/>
<polygon points="335.4,695.6 320.9,697.35 320.9,693.85" fill="#000" stroke="#000" stroke-width="0.3"/>
<polygon points="356.6,695.6 371.1,693.85 371.1,697.35" fill="#000" stroke="#000" stroke-width="0.3"/>
<polygon points="414.4,695.6 399.9,697.35 399.9,693.85" fill="#000" stroke="#000" stroke-width="0.3"/>
<polygon points="441,695.6 455.5,693.85 455.5,697.35" fill="#000" stroke="#000" stroke-width="0.3"/>
<line x1="414.4" y1="668.4" x2="471" y2="668.4" stroke="#1a1a1a" stroke-width="0.95"/>
<polygon points="435.6,668.4 421.1,670.15 421.1,666.65" fill="#000" stroke="#000" stroke-width="0.3"/>
<polygon points="441,668.4 455.5,666.65 455.5,670.15" fill="#000" stroke="#000" stroke-width="0.3"/>
<line x1="311" y1="542.4" x2="466" y2="542.4" stroke="#1a1a1a" stroke-width="0.95"/>
<line x1="458" y1="513" x2="458" y2="648" stroke="#1a1a1a" stroke-width="0.95"/>
<polygon points="458,542.4 456.25,527.9 459.75,527.9" fill="#000" stroke="#000" stroke-width="0.3"/>
<polygon points="458,548 459.75,562.5 456.25,562.5" fill="#000" stroke="#000" stroke-width="0.3"/>
<polygon points="458,597.6 456.25,583.1 459.75,583.1" fill="#000" stroke="#000" stroke-width="0.3"/>
<polygon points="458,597.6 459.75,612.1 456.25,612.1" fill="#000" stroke="#000" stroke-width="0.3"/>
<polygon points="458,648 456.25,633.5 459.75,633.5" fill="#000" stroke="#000" stroke-width="0.3"/>
<line x1="478.6" y1="548" x2="478.6" y2="648" stroke="#1a1a1a" stroke-width="0.95"/>
<polygon points="478.6,548 480.35,562.5 476.85,562.5" fill="#000" stroke="#000" stroke-width="0.3"/>
<polygon points="478.6,648 476.85,633.5 480.35,633.5" fill="#000" stroke="#000" stroke-width="0.3"/>
<line x1="311" y1="566.4" x2="346" y2="566.4" stroke="#1a1a1a" stroke-width="0.95"/>
<line x1="311" y1="629" x2="346" y2="629" stroke="#1a1a1a" stroke-width="0.95"/>
<line x1="319" y1="521" x2="319" y2="629" stroke="#1a1a1a" stroke-width="0.95"/>
<polygon points="319,542.4 317.25,527.9 320.75,527.9" fill="#000" stroke="#000" stroke-width="0.3"/>
<polygon points="319,566.4 320.75,580.9 317.25,580.9" fill="#000" stroke="#000" stroke-width="0.3"/>
<polygon points="319,629 317.25,614.5 320.75,614.5" fill="#000" stroke="#000" stroke-width="0.3"/>
<line x1="283" y1="600.4" x2="334" y2="600.4" stroke="#1a1a1a" stroke-width="0.95"/>
<line x1="283" y1="661.6" x2="336" y2="661.6" stroke="#1a1a1a" stroke-width="0.95"/>
<line x1="291.7" y1="600.4" x2="291.7" y2="661.6" stroke="#1a1a1a" stroke-width="0.95"/>
<polygon points="291.7,600.4 293.45,614.9 289.95,614.9" fill="#000" stroke="#000" stroke-width="0.3"/>
<polygon points="291.7,661.6 289.95,647.1 293.45,647.1" fill="#000" stroke="#000" stroke-width="0.3"/>
<line x1="357" y1="629" x2="291.7" y2="718.3" stroke="#1a1a1a" stroke-width="0.95"/>
<line x1="291.7" y1="718.3" x2="242" y2="718.3" stroke="#1a1a1a" stroke-width="0.95"/>
<polygon points="336.16,657.5 329.01,670.24 326.19,668.17" fill="#000" stroke="#000" stroke-width="0.3"/>
<path d="M625.7,542.4 L527.1,542.4 Q523.6,542.4 523.6,545.9 L523.6,589.5 Q523.6,591.6 525.6,591.6 L545.9,591.6 Q547.4,591.6 547.4,593 L547.4,601 Q547.4,602.4 545.9,602.4 L525.6,602.4 Q523.6,602.4 523.6,604.4 L523.6,649.5 Q523.6,653 527.1,653 L625.7,653 Q629.2,653 629.2,649.5 L629.2,545.9 Q629.2,542.4 625.7,542.4 Z" fill="none" stroke="#000" stroke-width="1.45" stroke-linejoin="round" stroke-linecap="round"/>
<line x1="629.2" y1="548" x2="488.5" y2="548" stroke="#1a1a1a" stroke-width="0.95"/>
<line x1="629.2" y1="648" x2="488.5" y2="648" stroke="#1a1a1a" stroke-width="0.95"/>
<line x1="621.6" y1="522" x2="621.6" y2="656" stroke="#1a1a1a" stroke-width="0.95"/>
<line x1="575" y1="522" x2="575" y2="658" stroke="#1a1a1a" stroke-width="0.95"/>
<line x1="529" y1="522" x2="529" y2="678" stroke="#1a1a1a" stroke-width="0.95"/>
<circle cx="621.6" cy="548" r="2.5" fill="#777" stroke="#000" stroke-width="1.1"/>
<circle cx="621.6" cy="648" r="2.5" fill="#777" stroke="#000" stroke-width="1.1"/>
<circle cx="575" cy="548" r="2.5" fill="#777" stroke="#000" stroke-width="1.1"/>
<circle cx="575" cy="648" r="2.5" fill="#777" stroke="#000" stroke-width="1.1"/>
<circle cx="529.2" cy="548" r="2.5" fill="#777" stroke="#000" stroke-width="1.1"/>
<circle cx="529.2" cy="648" r="2.5" fill="#777" stroke="#000" stroke-width="1.1"/>
<rect x="583.6" y="600.4" width="48.4" height="60.6" rx="8" fill="none" stroke="#444" stroke-width="0.95"/>
<line x1="623.6" y1="597.6" x2="498.6" y2="597.6" stroke="#1a1a1a" stroke-width="0.95"/>
<rect x="602.8" y="555.6" width="10.8" height="21.4" fill="none" stroke="#000" stroke-width="1.3"/>
<rect x="599.8" y="564" width="16.6" height="5" fill="#fff" stroke="#000" stroke-width="1.4"/>
<line x1="616" y1="566.5" x2="599.6" y2="566.5" stroke="#1a1a1a" stroke-width="0.95"/>
<rect x="602.8" y="618" width="10.8" height="21.6" fill="none" stroke="#000" stroke-width="1.3"/>
<rect x="599.8" y="626.4" width="16.6" height="5" fill="#fff" stroke="#000" stroke-width="1.4"/>
<line x1="616" y1="628.9" x2="599.6" y2="628.9" stroke="#1a1a1a" stroke-width="0.95"/>
<line x1="608" y1="549" x2="608" y2="704" stroke="#1a1a1a" stroke-width="0.95"/>
<line x1="618.6" y1="566.4" x2="596.6" y2="566.4" stroke="#1a1a1a" stroke-width="0.95"/>
<line x1="618.6" y1="629" x2="596.6" y2="629" stroke="#1a1a1a" stroke-width="0.95"/>
<path d="M565,560.5 L536.2,560.5 L536.2,588 L550.4,588 L550.4,606.4 L536.2,606.4 L536.2,634.4 L565,634.4 Z" fill="none" stroke="#000" stroke-width="1.35" stroke-linejoin="round" stroke-linecap="round"/>
<rect x="533.5" y="568.5" width="33.9" height="9.6" fill="#fff" stroke="#000" stroke-width="1.35"/>
<rect x="533.5" y="617.6" width="33.9" height="9.6" fill="#fff" stroke="#000" stroke-width="1.35"/>
<line x1="567.4" y1="573.3" x2="533.5" y2="573.3" stroke="#1a1a1a" stroke-width="0.95"/>
<line x1="567.4" y1="622.4" x2="533.5" y2="622.4" stroke="#1a1a1a" stroke-width="0.95"/>
<line x1="570.1" y1="573.3" x2="567.4" y2="573.3" stroke="#1a1a1a" stroke-width="0.95"/>
<line x1="570.1" y1="622.4" x2="567.4" y2="622.4" stroke="#1a1a1a" stroke-width="0.95"/>
<line x1="550.2" y1="555" x2="550.2" y2="704" stroke="#1a1a1a" stroke-width="0.95"/>
<line x1="550.2" y1="638" x2="550.2" y2="657" stroke="#000" stroke-width="1.15"/>
<line x1="602.8" y1="558.8" x2="606" y2="555.6" stroke="#111" stroke-width="0.75"/>
<line x1="602.8" y1="563.6" x2="610.8" y2="555.6" stroke="#111" stroke-width="0.75"/>
<line x1="607.2" y1="564" x2="613.6" y2="557.6" stroke="#111" stroke-width="0.75"/>
<line x1="612" y1="564" x2="613.6" y2="562.4" stroke="#111" stroke-width="0.75"/>
<line x1="602.8" y1="573.2" x2="607" y2="569" stroke="#111" stroke-width="0.75"/>
<line x1="603.8" y1="577" x2="611.8" y2="569" stroke="#111" stroke-width="0.75"/>
<line x1="608.6" y1="577" x2="613.6" y2="572" stroke="#111" stroke-width="0.75"/>
<line x1="602.8" y1="621.2" x2="606" y2="618" stroke="#111" stroke-width="0.75"/>
<line x1="602.8" y1="626" x2="610.8" y2="618" stroke="#111" stroke-width="0.75"/>
<line x1="607.2" y1="626.4" x2="613.6" y2="620" stroke="#111" stroke-width="0.75"/>
<line x1="612" y1="626.4" x2="613.6" y2="624.8" stroke="#111" stroke-width="0.75"/>
<line x1="602.8" y1="635.6" x2="607" y2="631.4" stroke="#111" stroke-width="0.75"/>
<line x1="603.6" y1="639.6" x2="611.8" y2="631.4" stroke="#111" stroke-width="0.75"/>
<line x1="608.4" y1="639.6" x2="613.6" y2="634.4" stroke="#111" stroke-width="0.75"/>
<line x1="613.2" y1="639.6" x2="613.6" y2="639.2" stroke="#111" stroke-width="0.75"/>
<line x1="536.2" y1="564.6" x2="540.3" y2="560.5" stroke="#111" stroke-width="0.75"/>
<line x1="538.7" y1="568.5" x2="546.7" y2="560.5" stroke="#111" stroke-width="0.75"/>
<line x1="545.1" y1="568.5" x2="553.1" y2="560.5" stroke="#111" stroke-width="0.75"/>
<line x1="551.5" y1="568.5" x2="559.5" y2="560.5" stroke="#111" stroke-width="0.75"/>
<line x1="557.9" y1="568.5" x2="565" y2="561.4" stroke="#111" stroke-width="0.75"/>
<line x1="564.3" y1="568.5" x2="565" y2="567.8" stroke="#111" stroke-width="0.75"/>
<line x1="536.2" y1="583.8" x2="541.9" y2="578.1" stroke="#111" stroke-width="0.75"/>
<line x1="538.4" y1="588" x2="548.3" y2="578.1" stroke="#111" stroke-width="0.75"/>
<line x1="544.8" y1="588" x2="554.7" y2="578.1" stroke="#111" stroke-width="0.75"/>
<line x1="551.2" y1="588" x2="561.1" y2="578.1" stroke="#111" stroke-width="0.75"/>
<line x1="557.6" y1="588" x2="565" y2="580.6" stroke="#111" stroke-width="0.75"/>
<line x1="564" y1="588" x2="565" y2="587" stroke="#111" stroke-width="0.75"/>
<line x1="550.4" y1="588.8" x2="551.2" y2="588" stroke="#111" stroke-width="0.75"/>
<line x1="550.4" y1="595.2" x2="557.6" y2="588" stroke="#111" stroke-width="0.75"/>
<line x1="550.4" y1="601.6" x2="564" y2="588" stroke="#111" stroke-width="0.75"/>
<line x1="552" y1="606.4" x2="565" y2="593.4" stroke="#111" stroke-width="0.75"/>
<line x1="558.4" y1="606.4" x2="565" y2="599.8" stroke="#111" stroke-width="0.75"/>
<line x1="536.2" y1="609.4" x2="539.2" y2="606.4" stroke="#111" stroke-width="0.75"/>
<line x1="536.2" y1="615.8" x2="545.6" y2="606.4" stroke="#111" stroke-width="0.75"/>
<line x1="540.8" y1="617.6" x2="552" y2="606.4" stroke="#111" stroke-width="0.75"/>
<line x1="547.2" y1="617.6" x2="558.4" y2="606.4" stroke="#111" stroke-width="0.75"/>
<line x1="553.6" y1="617.6" x2="564.8" y2="606.4" stroke="#111" stroke-width="0.75"/>
<line x1="560" y1="617.6" x2="565" y2="612.6" stroke="#111" stroke-width="0.75"/>
<line x1="536.2" y1="628.6" x2="537.6" y2="627.2" stroke="#111" stroke-width="0.75"/>
<line x1="536.8" y1="634.4" x2="544" y2="627.2" stroke="#111" stroke-width="0.75"/>
<line x1="543.2" y1="634.4" x2="550.4" y2="627.2" stroke="#111" stroke-width="0.75"/>
<line x1="549.6" y1="634.4" x2="556.8" y2="627.2" stroke="#111" stroke-width="0.75"/>
<line x1="556" y1="634.4" x2="563.2" y2="627.2" stroke="#111" stroke-width="0.75"/>
<line x1="562.4" y1="634.4" x2="565" y2="631.8" stroke="#111" stroke-width="0.75"/>
<line x1="629.2" y1="500" x2="629.2" y2="542" stroke="#1a1a1a" stroke-width="0.95"/>
<line x1="523.6" y1="500" x2="523.6" y2="542" stroke="#1a1a1a" stroke-width="0.95"/>
<line x1="629.2" y1="509.6" x2="523.6" y2="509.6" stroke="#1a1a1a" stroke-width="0.95"/>
<polygon points="629.2,509.6 614.7,507.85 614.7,511.35" fill="#000" stroke="#000" stroke-width="0.3"/>
<polygon points="523.6,509.6 538.1,511.35 538.1,507.85" fill="#000" stroke="#000" stroke-width="0.3"/>
<line x1="621.6" y1="531.4" x2="529" y2="531.4" stroke="#1a1a1a" stroke-width="0.95"/>
<polygon points="621.6,531.4 607.1,529.65 607.1,533.15" fill="#000" stroke="#000" stroke-width="0.3"/>
<polygon points="575,531.4 589.5,533.15 589.5,529.65" fill="#000" stroke="#000" stroke-width="0.3"/>
<polygon points="575,531.4 560.5,529.65 560.5,533.15" fill="#000" stroke="#000" stroke-width="0.3"/>
<polygon points="529,531.4 543.5,533.15 543.5,529.65" fill="#000" stroke="#000" stroke-width="0.3"/>
<line x1="629.2" y1="653" x2="629.2" y2="704" stroke="#1a1a1a" stroke-width="0.95"/>
<line x1="523.6" y1="653" x2="523.6" y2="704" stroke="#1a1a1a" stroke-width="0.95"/>
<line x1="648.6" y1="695.6" x2="503.6" y2="695.6" stroke="#1a1a1a" stroke-width="0.95"/>
<polygon points="629.2,695.6 643.7,697.35 643.7,693.85" fill="#000" stroke="#000" stroke-width="0.3"/>
<polygon points="608,695.6 593.5,693.85 593.5,697.35" fill="#000" stroke="#000" stroke-width="0.3"/>
<polygon points="550.2,695.6 564.7,697.35 564.7,693.85" fill="#000" stroke="#000" stroke-width="0.3"/>
<polygon points="523.6,695.6 509.1,693.85 509.1,697.35" fill="#000" stroke="#000" stroke-width="0.3"/>
<line x1="550.2" y1="668.4" x2="493.6" y2="668.4" stroke="#1a1a1a" stroke-width="0.95"/>
<polygon points="529,668.4 543.5,670.15 543.5,666.65" fill="#000" stroke="#000" stroke-width="0.3"/>
<polygon points="523.6,668.4 509.1,666.65 509.1,670.15" fill="#000" stroke="#000" stroke-width="0.3"/>
<line x1="660" y1="542.4" x2="509" y2="542.4" stroke="#1a1a1a" stroke-width="0.95"/>
<line x1="516.4" y1="513" x2="516.4" y2="648" stroke="#1a1a1a" stroke-width="0.95"/>
<polygon points="516.4,542.4 518.15,527.9 514.65,527.9" fill="#000" stroke="#000" stroke-width="0.3"/>
<polygon points="516.4,548 514.65,562.5 518.15,562.5" fill="#000" stroke="#000" stroke-width="0.3"/>
<polygon points="516.4,597.6 518.15,583.1 514.65,583.1" fill="#000" stroke="#000" stroke-width="0.3"/>
<polygon points="516.4,597.6 514.65,612.1 518.15,612.1" fill="#000" stroke="#000" stroke-width="0.3"/>
<polygon points="516.4,648 518.15,633.5 514.65,633.5" fill="#000" stroke="#000" stroke-width="0.3"/>
<line x1="496.6" y1="548" x2="496.6" y2="648" stroke="#1a1a1a" stroke-width="0.95"/>
<polygon points="496.6,548 494.85,562.5 498.35,562.5" fill="#000" stroke="#000" stroke-width="0.3"/>
<polygon points="496.6,648 498.35,633.5 494.85,633.5" fill="#000" stroke="#000" stroke-width="0.3"/>
<line x1="660" y1="566.4" x2="618.6" y2="566.4" stroke="#1a1a1a" stroke-width="0.95"/>
<line x1="660" y1="629" x2="618.6" y2="629" stroke="#1a1a1a" stroke-width="0.95"/>
<line x1="652" y1="521" x2="652" y2="629" stroke="#1a1a1a" stroke-width="0.95"/>
<polygon points="652,542.4 653.75,527.9 650.25,527.9" fill="#000" stroke="#000" stroke-width="0.3"/>
<polygon points="652,566.4 650.25,580.9 653.75,580.9" fill="#000" stroke="#000" stroke-width="0.3"/>
<polygon points="652,629 653.75,614.5 650.25,614.5" fill="#000" stroke="#000" stroke-width="0.3"/>
<line x1="686.6" y1="600.4" x2="630.6" y2="600.4" stroke="#1a1a1a" stroke-width="0.95"/>
<line x1="686.6" y1="661.6" x2="628.6" y2="661.6" stroke="#1a1a1a" stroke-width="0.95"/>
<line x1="678.3" y1="600.4" x2="678.3" y2="661.6" stroke="#1a1a1a" stroke-width="0.95"/>
<polygon points="678.3,600.4 676.55,614.9 680.05,614.9" fill="#000" stroke="#000" stroke-width="0.3"/>
<polygon points="678.3,661.6 680.05,647.1 676.55,647.1" fill="#000" stroke="#000" stroke-width="0.3"/>
<line x1="607.6" y1="629" x2="678.3" y2="718.3" stroke="#1a1a1a" stroke-width="0.95"/>
<line x1="678.3" y1="718.3" x2="726.7" y2="718.3" stroke="#1a1a1a" stroke-width="0.95"/>
<polygon points="630.16,657.5 637.79,669.95 640.54,667.78" fill="#000" stroke="#000" stroke-width="0.3"/>
<text transform="translate(133.5,165.2) rotate(0)" x="-6.3" y="0" textLength="12.6" lengthAdjust="spacingAndGlyphs" font-family="'Liberation Serif','DejaVu Serif',serif" font-size="20" fill="#000" stroke="#000" stroke-width="0.35">A1</text>
<text transform="translate(204,165.2) rotate(0)" x="-6.3" y="0" textLength="12.6" lengthAdjust="spacingAndGlyphs" font-family="'Liberation Serif','DejaVu Serif',serif" font-size="20" fill="#000" stroke="#000" stroke-width="0.35">A2</text>
<text transform="translate(753.5,165.2) rotate(0)" x="-6.3" y="0" textLength="12.6" lengthAdjust="spacingAndGlyphs" font-family="'Liberation Serif','DejaVu Serif',serif" font-size="20" fill="#000" stroke="#000" stroke-width="0.35">A2</text>
<text transform="translate(824.5,165.2) rotate(0)" x="-6.3" y="0" textLength="12.6" lengthAdjust="spacingAndGlyphs" font-family="'Liberation Serif','DejaVu Serif',serif" font-size="20" fill="#000" stroke="#000" stroke-width="0.35">A1</text>
<text transform="translate(201.5,448) rotate(0)" x="-6.3" y="0" textLength="12.6" lengthAdjust="spacingAndGlyphs" font-family="'Liberation Serif','DejaVu Serif',serif" font-size="20" fill="#000" stroke="#000" stroke-width="0.35">b1</text>
<text transform="translate(762,448) rotate(0)" x="-6.3" y="0" textLength="12.6" lengthAdjust="spacingAndGlyphs" font-family="'Liberation Serif','DejaVu Serif',serif" font-size="20" fill="#000" stroke="#000" stroke-width="0.35">b1</text>
<text transform="translate(27.5,273) rotate(-90)" x="-14.5" y="0" textLength="29" lengthAdjust="spacingAndGlyphs" font-family="'Liberation Serif','DejaVu Serif',serif" font-size="20" fill="#000" stroke="#000" stroke-width="0.35">Hma x</text>
<text transform="translate(53.5,332) rotate(-90)" x="-6.5" y="0" textLength="13" lengthAdjust="spacingAndGlyphs" font-family="'Liberation Serif','DejaVu Serif',serif" font-size="20" fill="#000" stroke="#000" stroke-width="0.35">H2</text>
<text transform="translate(85.5,391) rotate(-90)" x="-6.3" y="0" textLength="12.6" lengthAdjust="spacingAndGlyphs" font-family="'Liberation Serif','DejaVu Serif',serif" font-size="20" fill="#000" stroke="#000" stroke-width="0.35">h1</text>
<text transform="translate(232,394) rotate(-90)" x="-3.25" y="0" textLength="6.5" lengthAdjust="spacingAndGlyphs" font-family="'Liberation Serif','DejaVu Serif',serif" font-size="20" fill="#000" stroke="#000" stroke-width="0.35">n</text>
<text transform="translate(254,347) rotate(-90)" x="-6.5" y="0" textLength="13" lengthAdjust="spacingAndGlyphs" font-family="'Liberation Serif','DejaVu Serif',serif" font-size="20" fill="#000" stroke="#000" stroke-width="0.35">H3</text>
<text transform="translate(923.5,273) rotate(-90)" x="-14.5" y="0" textLength="29" lengthAdjust="spacingAndGlyphs" font-family="'Liberation Serif','DejaVu Serif',serif" font-size="20" fill="#000" stroke="#000" stroke-width="0.35">Hma x</text>
<text transform="translate(896.5,334) rotate(-90)" x="-6.5" y="0" textLength="13" lengthAdjust="spacingAndGlyphs" font-family="'Liberation Serif','DejaVu Serif',serif" font-size="20" fill="#000" stroke="#000" stroke-width="0.35">H2</text>
<text transform="translate(860.5,391) rotate(-90)" x="-6.3" y="0" textLength="12.6" lengthAdjust="spacingAndGlyphs" font-family="'Liberation Serif','DejaVu Serif',serif" font-size="20" fill="#000" stroke="#000" stroke-width="0.35">h1</text>
<text transform="translate(717.5,395) rotate(-90)" x="-3.25" y="0" textLength="6.5" lengthAdjust="spacingAndGlyphs" font-family="'Liberation Serif','DejaVu Serif',serif" font-size="20" fill="#000" stroke="#000" stroke-width="0.35">n</text>
<text transform="translate(700,342) rotate(-90)" x="-6.5" y="0" textLength="13" lengthAdjust="spacingAndGlyphs" font-family="'Liberation Serif','DejaVu Serif',serif" font-size="20" fill="#000" stroke="#000" stroke-width="0.35">H3</text>
<text transform="translate(372.3,186.7) rotate(0)" x="-6.3" y="0" textLength="12.6" lengthAdjust="spacingAndGlyphs" font-family="'Liberation Serif','DejaVu Serif',serif" font-size="20" fill="#000" stroke="#000" stroke-width="0.35">C1</text>
<text transform="translate(592.3,186.7) rotate(0)" x="-6.3" y="0" textLength="12.6" lengthAdjust="spacingAndGlyphs" font-family="'Liberation Serif','DejaVu Serif',serif" font-size="20" fill="#000" stroke="#000" stroke-width="0.35">C1</text>
<text transform="translate(466,186.7) rotate(0)" x="-6.8" y="0" textLength="13.6" lengthAdjust="spacingAndGlyphs" font-family="'Liberation Serif','DejaVu Serif',serif" font-size="20" fill="#000" stroke="#000" stroke-width="0.35">C2</text>
<text transform="translate(498.6,186.7) rotate(0)" x="-6.8" y="0" textLength="13.6" lengthAdjust="spacingAndGlyphs" font-family="'Liberation Serif','DejaVu Serif',serif" font-size="20" fill="#000" stroke="#000" stroke-width="0.35">C2</text>
<text transform="translate(447.8,165) rotate(0)" x="-3.3" y="0" textLength="6.6" lengthAdjust="spacingAndGlyphs" font-family="'Liberation Serif','DejaVu Serif',serif" font-size="20" fill="#000" stroke="#000" stroke-width="0.35">E</text>
<text transform="translate(516.8,165) rotate(0)" x="-3.3" y="0" textLength="6.6" lengthAdjust="spacingAndGlyphs" font-family="'Liberation Serif','DejaVu Serif',serif" font-size="20" fill="#000" stroke="#000" stroke-width="0.35">E</text>
<text transform="translate(414.3,272) rotate(0)" x="-6.25" y="0" textLength="12.5" lengthAdjust="spacingAndGlyphs" font-family="'Liberation Serif','DejaVu Serif',serif" font-size="20" fill="#000" stroke="#000" stroke-width="0.35">b2</text>
<text transform="translate(550.3,272) rotate(0)" x="-6.25" y="0" textLength="12.5" lengthAdjust="spacingAndGlyphs" font-family="'Liberation Serif','DejaVu Serif',serif" font-size="20" fill="#000" stroke="#000" stroke-width="0.35">b2</text>
<text transform="translate(457.8,459.7) rotate(0)" x="-6.25" y="0" textLength="12.5" lengthAdjust="spacingAndGlyphs" font-family="'Liberation Serif','DejaVu Serif',serif" font-size="20" fill="#000" stroke="#000" stroke-width="0.35">K1</text>
<text transform="translate(506.8,459.7) rotate(0)" x="-6.25" y="0" textLength="12.5" lengthAdjust="spacingAndGlyphs" font-family="'Liberation Serif','DejaVu Serif',serif" font-size="20" fill="#000" stroke="#000" stroke-width="0.35">K1</text>
<text transform="translate(296,314) rotate(-90)" x="-6.5" y="0" textLength="13" lengthAdjust="spacingAndGlyphs" font-family="'Liberation Serif','DejaVu Serif',serif" font-size="20" fill="#000" stroke="#000" stroke-width="0.35">H4</text>
<text transform="translate(659.5,314) rotate(-90)" x="-6.5" y="0" textLength="13" lengthAdjust="spacingAndGlyphs" font-family="'Liberation Serif','DejaVu Serif',serif" font-size="20" fill="#000" stroke="#000" stroke-width="0.35">H4</text>
<text transform="translate(467.4,298.3) rotate(70.7)" x="-6.8" y="0" textLength="13.6" lengthAdjust="spacingAndGlyphs" font-family="'Liberation Serif','DejaVu Serif',serif" font-size="20" fill="#000" stroke="#000" stroke-width="0.35">D1</text>
<text transform="translate(509,298.3) rotate(-59)" x="-6.7" y="0" textLength="13.4" lengthAdjust="spacingAndGlyphs" font-family="'Liberation Serif','DejaVu Serif',serif" font-size="20" fill="#000" stroke="#000" stroke-width="0.35">D2</text>
<text transform="translate(514.2,338.6) rotate(-17.3)" x="-6.5" y="0" textLength="13" lengthAdjust="spacingAndGlyphs" font-family="'Liberation Serif','DejaVu Serif',serif" font-size="20" fill="#000" stroke="#000" stroke-width="0.35">D3</text>
<text transform="translate(386.4,503) rotate(0)" x="-2.1" y="0" textLength="4.2" lengthAdjust="spacingAndGlyphs" font-family="'Liberation Serif','DejaVu Serif',serif" font-size="19" fill="#000" stroke="#000" stroke-width="0.35">f</text>
<text transform="translate(578.2,503) rotate(0)" x="-2.1" y="0" textLength="4.2" lengthAdjust="spacingAndGlyphs" font-family="'Liberation Serif','DejaVu Serif',serif" font-size="19" fill="#000" stroke="#000" stroke-width="0.35">f</text>
<text transform="translate(366,525) rotate(0)" x="-6.3" y="0" textLength="12.6" lengthAdjust="spacingAndGlyphs" font-family="'Liberation Serif','DejaVu Serif',serif" font-size="19" fill="#000" stroke="#000" stroke-width="0.35">K2</text>
<text transform="translate(598.6,525) rotate(0)" x="-6.3" y="0" textLength="12.6" lengthAdjust="spacingAndGlyphs" font-family="'Liberation Serif','DejaVu Serif',serif" font-size="19" fill="#000" stroke="#000" stroke-width="0.35">K2</text>
<text transform="translate(412,525) rotate(0)" x="-6.3" y="0" textLength="12.6" lengthAdjust="spacingAndGlyphs" font-family="'Liberation Serif','DejaVu Serif',serif" font-size="19" fill="#000" stroke="#000" stroke-width="0.35">K2</text>
<text transform="translate(552.6,525) rotate(0)" x="-6.3" y="0" textLength="12.6" lengthAdjust="spacingAndGlyphs" font-family="'Liberation Serif','DejaVu Serif',serif" font-size="19" fill="#000" stroke="#000" stroke-width="0.35">K2</text>
<text transform="translate(346,690) rotate(0)" x="-3.2" y="0" textLength="6.4" lengthAdjust="spacingAndGlyphs" font-family="'Liberation Serif','DejaVu Serif',serif" font-size="20" fill="#000" stroke="#000" stroke-width="0.35">X</text>
<text transform="translate(385,686) rotate(0)" x="-6.1" y="0" textLength="12.2" lengthAdjust="spacingAndGlyphs" font-family="'Liberation Serif','DejaVu Serif',serif" font-size="20" fill="#000" stroke="#000" stroke-width="0.35">p1</text>
<text transform="translate(427,690) rotate(0)" x="-6.1" y="0" textLength="12.2" lengthAdjust="spacingAndGlyphs" font-family="'Liberation Serif','DejaVu Serif',serif" font-size="20" fill="#000" stroke="#000" stroke-width="0.35">n1</text>
<text transform="translate(466,663) rotate(0)" x="-3" y="0" textLength="6" lengthAdjust="spacingAndGlyphs" font-family="'Liberation Serif','DejaVu Serif',serif" font-size="20" fill="#000" stroke="#000" stroke-width="0.35">q</text>
<text transform="translate(619,690) rotate(0)" x="-3.2" y="0" textLength="6.4" lengthAdjust="spacingAndGlyphs" font-family="'Liberation Serif','DejaVu Serif',serif" font-size="20" fill="#000" stroke="#000" stroke-width="0.35">X</text>
<text transform="translate(579,686) rotate(0)" x="-6.1" y="0" textLength="12.2" lengthAdjust="spacingAndGlyphs" font-family="'Liberation Serif','DejaVu Serif',serif" font-size="20" fill="#000" stroke="#000" stroke-width="0.35">p1</text>
<text transform="translate(537,690) rotate(0)" x="-6.1" y="0" textLength="12.2" lengthAdjust="spacingAndGlyphs" font-family="'Liberation Serif','DejaVu Serif',serif" font-size="20" fill="#000" stroke="#000" stroke-width="0.35">n1</text>
<text transform="translate(499,663) rotate(0)" x="-3" y="0" textLength="6" lengthAdjust="spacingAndGlyphs" font-family="'Liberation Serif','DejaVu Serif',serif" font-size="20" fill="#000" stroke="#000" stroke-width="0.35">q</text>
<text transform="translate(453,518.5) rotate(-90)" x="-1.8" y="0" textLength="3.6" lengthAdjust="spacingAndGlyphs" font-family="'Liberation Serif','DejaVu Serif',serif" font-size="15.5" fill="#000" stroke="#000" stroke-width="0.15">t</text>
<text transform="translate(453,574) rotate(-90)" x="-4.8" y="0" textLength="9.6" lengthAdjust="spacingAndGlyphs" font-family="'Liberation Serif','DejaVu Serif',serif" font-size="16" fill="#000" stroke="#000" stroke-width="0.15">i1</text>
<text transform="translate(453,623.3) rotate(-90)" x="-5.35" y="0" textLength="10.7" lengthAdjust="spacingAndGlyphs" font-family="'Liberation Serif','DejaVu Serif',serif" font-size="16" fill="#000" stroke="#000" stroke-width="0.15">i2</text>
<text transform="translate(472.4,598.4) rotate(-90)" x="-2.6" y="0" textLength="5.2" lengthAdjust="spacingAndGlyphs" font-family="'Liberation Serif','DejaVu Serif',serif" font-size="15.5" fill="#000" stroke="#000" stroke-width="0.15">g</text>
<text transform="translate(314.7,553.7) rotate(-90)" x="-6.7" y="0" textLength="13.4" lengthAdjust="spacingAndGlyphs" font-family="'Liberation Serif','DejaVu Serif',serif" font-size="18.6" fill="#000" stroke="#000" stroke-width="0.35">n2</text>
<text transform="translate(312,583.5) rotate(-90)" x="-6.15" y="0" textLength="12.3" lengthAdjust="spacingAndGlyphs" font-family="'Liberation Serif','DejaVu Serif',serif" font-size="18.6" fill="#000" stroke="#000" stroke-width="0.35">p2</text>
<text transform="translate(286,630) rotate(-90)" x="-3" y="0" textLength="6" lengthAdjust="spacingAndGlyphs" font-family="'Liberation Serif','DejaVu Serif',serif" font-size="19" fill="#000" stroke="#000" stroke-width="0.35">v</text>
<text transform="translate(511.2,518.5) rotate(-90)" x="-1.8" y="0" textLength="3.6" lengthAdjust="spacingAndGlyphs" font-family="'Liberation Serif','DejaVu Serif',serif" font-size="15.5" fill="#000" stroke="#000" stroke-width="0.15">t</text>
<text transform="translate(512,574) rotate(-90)" x="-4.8" y="0" textLength="9.6" lengthAdjust="spacingAndGlyphs" font-family="'Liberation Serif','DejaVu Serif',serif" font-size="16" fill="#000" stroke="#000" stroke-width="0.15">i1</text>
<text transform="translate(512,623) rotate(-90)" x="-5.35" y="0" textLength="10.7" lengthAdjust="spacingAndGlyphs" font-family="'Liberation Serif','DejaVu Serif',serif" font-size="16" fill="#000" stroke="#000" stroke-width="0.15">i2</text>
<text transform="translate(491,598.7) rotate(-90)" x="-2.6" y="0" textLength="5.2" lengthAdjust="spacingAndGlyphs" font-family="'Liberation Serif','DejaVu Serif',serif" font-size="15.5" fill="#000" stroke="#000" stroke-width="0.15">g</text>
<text transform="translate(648,554.5) rotate(-90)" x="-6.7" y="0" textLength="13.4" lengthAdjust="spacingAndGlyphs" font-family="'Liberation Serif','DejaVu Serif',serif" font-size="18.6" fill="#000" stroke="#000" stroke-width="0.35">n2</text>
<text transform="translate(645.3,584) rotate(-90)" x="-6.15" y="0" textLength="12.3" lengthAdjust="spacingAndGlyphs" font-family="'Liberation Serif','DejaVu Serif',serif" font-size="18.6" fill="#000" stroke="#000" stroke-width="0.35">p2</text>
<text transform="translate(673,630) rotate(-90)" x="-3" y="0" textLength="6" lengthAdjust="spacingAndGlyphs" font-family="'Liberation Serif','DejaVu Serif',serif" font-size="19" fill="#000" stroke="#000" stroke-width="0.35">v</text>
<text transform="translate(261.7,713) rotate(0)" x="-14" y="0" textLength="28" lengthAdjust="spacingAndGlyphs" font-family="'Liberation Serif','DejaVu Serif',serif" font-size="20" fill="#000" stroke="#000" stroke-width="0.35">6-d3</text>
<text transform="translate(707,712.3) rotate(0)" x="-14.5" y="0" textLength="29" lengthAdjust="spacingAndGlyphs" font-family="'Liberation Serif','DejaVu Serif',serif" font-size="20" fill="#000" stroke="#000" stroke-width="0.35">6-d3</text>
</svg>
<div class="title"><span class="la" style="left:259px;">YPZ2</span><span class="rn" style="left:326px;transform:scaleX(1.14);transform-origin:3px 50%;">Ⅳ</span><span class="cj" style="left:352px;">、</span><span class="rn" style="left:374px;">Ⅴ</span><span class="cj" style="left:394px;">、</span><span class="rn" style="left:419.6px;">Ⅵ</span><span class="cj" style="left:442.8px;font-size:24.75px;">系列电力液压盘式制动器</span></div>
<div class="lab" style="left:260px;top:95px;">左式</div>
<div class="lab" style="left:678px;top:90.7px;">右式</div>
</body>
</html>
